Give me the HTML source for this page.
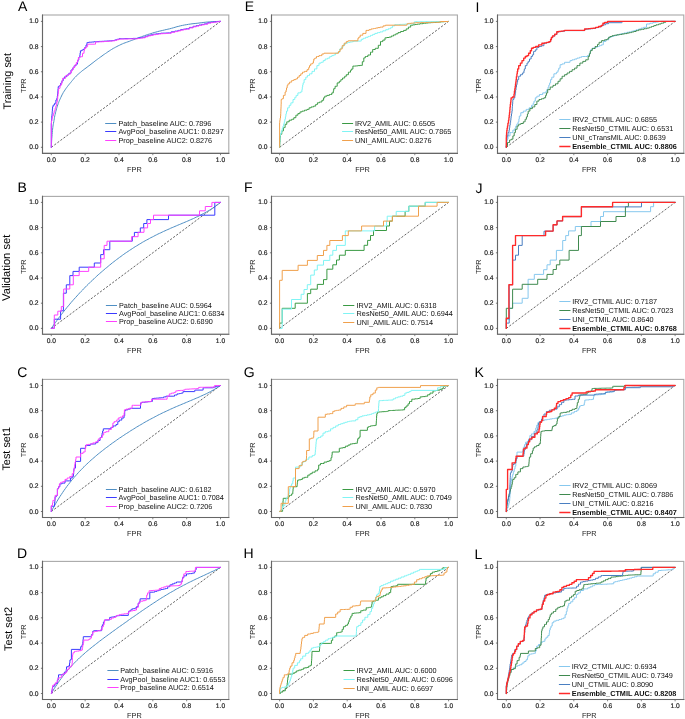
<!DOCTYPE html>
<html><head><meta charset="utf-8"><style>
html,body{margin:0;padding:0;background:#fff;width:685px;height:719px;overflow:hidden}
svg{display:block;will-change:transform}
text{font-family:"Liberation Sans", sans-serif;text-rendering:geometricPrecision}
</style></head><body>
<svg width="685" height="719" viewBox="0 0 685 719" font-family='"Liberation Sans", sans-serif'>
<rect width="685" height="719" fill="#fff"/>
<text x="18.00" y="11.20" font-size="14" fill="#000">A</text>
<text x="17.60" y="192.10" font-size="14" fill="#000">B</text>
<text x="17.20" y="376.60" font-size="14" fill="#000">C</text>
<text x="17.00" y="558.20" font-size="14" fill="#000">D</text>
<text x="244.80" y="11.20" font-size="14" fill="#000">E</text>
<text x="244.10" y="192.10" font-size="14" fill="#000">F</text>
<text x="243.70" y="376.60" font-size="14" fill="#000">G</text>
<text x="243.60" y="558.00" font-size="14" fill="#000">H</text>
<text x="475.50" y="11.60" font-size="14" fill="#000">I</text>
<text x="475.40" y="192.80" font-size="14" fill="#000">J</text>
<text x="474.60" y="376.80" font-size="14" fill="#000">K</text>
<text x="474.60" y="558.60" font-size="14" fill="#000">L</text>
<text transform="translate(10.50,81.30) rotate(-90)" font-size="10.90" fill="#000" text-anchor="middle">Training set</text>
<text transform="translate(9.70,267.80) rotate(-90)" font-size="11.20" fill="#000" text-anchor="middle">Validation set</text>
<text transform="translate(9.60,448.80) rotate(-90)" font-size="10.90" fill="#000" text-anchor="middle">Test set1</text>
<text transform="translate(12.20,628.90) rotate(-90)" font-size="11.00" fill="#000" text-anchor="middle">Test set2</text>
<rect x="42.50" y="15.00" width="186.30" height="138.40" fill="none" stroke="#a8a8a8" stroke-width="1.1"/>
<path d="M42.50,14.45 V153.40 H229.35" fill="none" stroke="#666" stroke-width="1.1"/>
<line x1="40.90" y1="147.30" x2="42.50" y2="147.30" stroke="#555" stroke-width="0.8"/>
<text x="38.60" y="149.30" font-size="6.7" fill="#222" stroke="#222" stroke-width="0.18" text-anchor="end">0.0</text>
<line x1="40.90" y1="122.12" x2="42.50" y2="122.12" stroke="#555" stroke-width="0.8"/>
<text x="38.60" y="124.12" font-size="6.7" fill="#222" stroke="#222" stroke-width="0.18" text-anchor="end">0.2</text>
<line x1="40.90" y1="96.94" x2="42.50" y2="96.94" stroke="#555" stroke-width="0.8"/>
<text x="38.60" y="98.94" font-size="6.7" fill="#222" stroke="#222" stroke-width="0.18" text-anchor="end">0.4</text>
<line x1="40.90" y1="71.76" x2="42.50" y2="71.76" stroke="#555" stroke-width="0.8"/>
<text x="38.60" y="73.76" font-size="6.7" fill="#222" stroke="#222" stroke-width="0.18" text-anchor="end">0.6</text>
<line x1="40.90" y1="46.58" x2="42.50" y2="46.58" stroke="#555" stroke-width="0.8"/>
<text x="38.60" y="48.58" font-size="6.7" fill="#222" stroke="#222" stroke-width="0.18" text-anchor="end">0.8</text>
<line x1="40.90" y1="21.40" x2="42.50" y2="21.40" stroke="#555" stroke-width="0.8"/>
<text x="38.60" y="23.40" font-size="6.7" fill="#222" stroke="#222" stroke-width="0.18" text-anchor="end">1.0</text>
<line x1="51.30" y1="153.40" x2="51.30" y2="155.20" stroke="#666" stroke-width="0.8"/>
<text x="51.30" y="161.80" font-size="6.7" fill="#222" stroke="#222" stroke-width="0.18" text-anchor="middle">0.0</text>
<line x1="85.14" y1="153.40" x2="85.14" y2="155.20" stroke="#666" stroke-width="0.8"/>
<text x="85.14" y="161.80" font-size="6.7" fill="#222" stroke="#222" stroke-width="0.18" text-anchor="middle">0.2</text>
<line x1="118.98" y1="153.40" x2="118.98" y2="155.20" stroke="#666" stroke-width="0.8"/>
<text x="118.98" y="161.80" font-size="6.7" fill="#222" stroke="#222" stroke-width="0.18" text-anchor="middle">0.4</text>
<line x1="152.82" y1="153.40" x2="152.82" y2="155.20" stroke="#666" stroke-width="0.8"/>
<text x="152.82" y="161.80" font-size="6.7" fill="#222" stroke="#222" stroke-width="0.18" text-anchor="middle">0.6</text>
<line x1="186.66" y1="153.40" x2="186.66" y2="155.20" stroke="#666" stroke-width="0.8"/>
<text x="186.66" y="161.80" font-size="6.7" fill="#222" stroke="#222" stroke-width="0.18" text-anchor="middle">0.8</text>
<line x1="220.50" y1="153.40" x2="220.50" y2="155.20" stroke="#666" stroke-width="0.8"/>
<text x="220.50" y="161.80" font-size="6.7" fill="#222" stroke="#222" stroke-width="0.18" text-anchor="middle">1.0</text>
<text x="134.40" y="171.60" font-size="7.3" fill="#222" text-anchor="middle">FPR</text>
<text transform="translate(25.70,85.75) rotate(-90)" font-size="7.3" fill="#222" text-anchor="middle">TPR</text>
<line x1="51.30" y1="147.30" x2="220.50" y2="21.40" stroke="#222" stroke-width="0.7" stroke-dasharray="2.2,1.6"/>
<rect x="271.50" y="15.00" width="185.90" height="138.40" fill="none" stroke="#a8a8a8" stroke-width="1.1"/>
<path d="M271.50,14.45 V153.40 H457.95" fill="none" stroke="#666" stroke-width="1.1"/>
<line x1="269.90" y1="147.30" x2="271.50" y2="147.30" stroke="#555" stroke-width="0.8"/>
<text x="267.60" y="149.30" font-size="6.7" fill="#222" stroke="#222" stroke-width="0.18" text-anchor="end">0.0</text>
<line x1="269.90" y1="122.12" x2="271.50" y2="122.12" stroke="#555" stroke-width="0.8"/>
<text x="267.60" y="124.12" font-size="6.7" fill="#222" stroke="#222" stroke-width="0.18" text-anchor="end">0.2</text>
<line x1="269.90" y1="96.94" x2="271.50" y2="96.94" stroke="#555" stroke-width="0.8"/>
<text x="267.60" y="98.94" font-size="6.7" fill="#222" stroke="#222" stroke-width="0.18" text-anchor="end">0.4</text>
<line x1="269.90" y1="71.76" x2="271.50" y2="71.76" stroke="#555" stroke-width="0.8"/>
<text x="267.60" y="73.76" font-size="6.7" fill="#222" stroke="#222" stroke-width="0.18" text-anchor="end">0.6</text>
<line x1="269.90" y1="46.58" x2="271.50" y2="46.58" stroke="#555" stroke-width="0.8"/>
<text x="267.60" y="48.58" font-size="6.7" fill="#222" stroke="#222" stroke-width="0.18" text-anchor="end">0.8</text>
<line x1="269.90" y1="21.40" x2="271.50" y2="21.40" stroke="#555" stroke-width="0.8"/>
<text x="267.60" y="23.40" font-size="6.7" fill="#222" stroke="#222" stroke-width="0.18" text-anchor="end">1.0</text>
<line x1="279.60" y1="153.40" x2="279.60" y2="155.20" stroke="#666" stroke-width="0.8"/>
<text x="279.60" y="161.80" font-size="6.7" fill="#222" stroke="#222" stroke-width="0.18" text-anchor="middle">0.0</text>
<line x1="313.40" y1="153.40" x2="313.40" y2="155.20" stroke="#666" stroke-width="0.8"/>
<text x="313.40" y="161.80" font-size="6.7" fill="#222" stroke="#222" stroke-width="0.18" text-anchor="middle">0.2</text>
<line x1="347.20" y1="153.40" x2="347.20" y2="155.20" stroke="#666" stroke-width="0.8"/>
<text x="347.20" y="161.80" font-size="6.7" fill="#222" stroke="#222" stroke-width="0.18" text-anchor="middle">0.4</text>
<line x1="381.00" y1="153.40" x2="381.00" y2="155.20" stroke="#666" stroke-width="0.8"/>
<text x="381.00" y="161.80" font-size="6.7" fill="#222" stroke="#222" stroke-width="0.18" text-anchor="middle">0.6</text>
<line x1="414.80" y1="153.40" x2="414.80" y2="155.20" stroke="#666" stroke-width="0.8"/>
<text x="414.80" y="161.80" font-size="6.7" fill="#222" stroke="#222" stroke-width="0.18" text-anchor="middle">0.8</text>
<line x1="448.60" y1="153.40" x2="448.60" y2="155.20" stroke="#666" stroke-width="0.8"/>
<text x="448.60" y="161.80" font-size="6.7" fill="#222" stroke="#222" stroke-width="0.18" text-anchor="middle">1.0</text>
<text x="362.60" y="171.60" font-size="7.3" fill="#222" text-anchor="middle">FPR</text>
<text transform="translate(254.70,85.75) rotate(-90)" font-size="7.3" fill="#222" text-anchor="middle">TPR</text>
<line x1="279.60" y1="147.30" x2="448.60" y2="21.40" stroke="#222" stroke-width="0.7" stroke-dasharray="2.2,1.6"/>
<rect x="497.50" y="15.00" width="186.30" height="138.40" fill="none" stroke="#a8a8a8" stroke-width="1.1"/>
<path d="M497.50,14.45 V153.40 H684.35" fill="none" stroke="#666" stroke-width="1.1"/>
<line x1="495.90" y1="147.30" x2="497.50" y2="147.30" stroke="#555" stroke-width="0.8"/>
<text x="493.60" y="149.30" font-size="6.7" fill="#222" stroke="#222" stroke-width="0.18" text-anchor="end">0.0</text>
<line x1="495.90" y1="122.12" x2="497.50" y2="122.12" stroke="#555" stroke-width="0.8"/>
<text x="493.60" y="124.12" font-size="6.7" fill="#222" stroke="#222" stroke-width="0.18" text-anchor="end">0.2</text>
<line x1="495.90" y1="96.94" x2="497.50" y2="96.94" stroke="#555" stroke-width="0.8"/>
<text x="493.60" y="98.94" font-size="6.7" fill="#222" stroke="#222" stroke-width="0.18" text-anchor="end">0.4</text>
<line x1="495.90" y1="71.76" x2="497.50" y2="71.76" stroke="#555" stroke-width="0.8"/>
<text x="493.60" y="73.76" font-size="6.7" fill="#222" stroke="#222" stroke-width="0.18" text-anchor="end">0.6</text>
<line x1="495.90" y1="46.58" x2="497.50" y2="46.58" stroke="#555" stroke-width="0.8"/>
<text x="493.60" y="48.58" font-size="6.7" fill="#222" stroke="#222" stroke-width="0.18" text-anchor="end">0.8</text>
<line x1="495.90" y1="21.40" x2="497.50" y2="21.40" stroke="#555" stroke-width="0.8"/>
<text x="493.60" y="23.40" font-size="6.7" fill="#222" stroke="#222" stroke-width="0.18" text-anchor="end">1.0</text>
<line x1="506.30" y1="153.40" x2="506.30" y2="155.20" stroke="#666" stroke-width="0.8"/>
<text x="506.30" y="161.80" font-size="6.7" fill="#222" stroke="#222" stroke-width="0.18" text-anchor="middle">0.0</text>
<line x1="540.06" y1="153.40" x2="540.06" y2="155.20" stroke="#666" stroke-width="0.8"/>
<text x="540.06" y="161.80" font-size="6.7" fill="#222" stroke="#222" stroke-width="0.18" text-anchor="middle">0.2</text>
<line x1="573.82" y1="153.40" x2="573.82" y2="155.20" stroke="#666" stroke-width="0.8"/>
<text x="573.82" y="161.80" font-size="6.7" fill="#222" stroke="#222" stroke-width="0.18" text-anchor="middle">0.4</text>
<line x1="607.58" y1="153.40" x2="607.58" y2="155.20" stroke="#666" stroke-width="0.8"/>
<text x="607.58" y="161.80" font-size="6.7" fill="#222" stroke="#222" stroke-width="0.18" text-anchor="middle">0.6</text>
<line x1="641.34" y1="153.40" x2="641.34" y2="155.20" stroke="#666" stroke-width="0.8"/>
<text x="641.34" y="161.80" font-size="6.7" fill="#222" stroke="#222" stroke-width="0.18" text-anchor="middle">0.8</text>
<line x1="675.10" y1="153.40" x2="675.10" y2="155.20" stroke="#666" stroke-width="0.8"/>
<text x="675.10" y="161.80" font-size="6.7" fill="#222" stroke="#222" stroke-width="0.18" text-anchor="middle">1.0</text>
<text x="589.20" y="171.60" font-size="7.3" fill="#222" text-anchor="middle">FPR</text>
<text transform="translate(480.70,85.75) rotate(-90)" font-size="7.3" fill="#222" text-anchor="middle">TPR</text>
<line x1="506.30" y1="147.30" x2="675.10" y2="21.40" stroke="#222" stroke-width="0.7" stroke-dasharray="2.2,1.6"/>
<rect x="42.50" y="196.40" width="186.30" height="137.90" fill="none" stroke="#a8a8a8" stroke-width="1.1"/>
<path d="M42.50,195.85 V334.30 H229.35" fill="none" stroke="#666" stroke-width="1.1"/>
<line x1="40.90" y1="328.40" x2="42.50" y2="328.40" stroke="#555" stroke-width="0.8"/>
<text x="38.60" y="330.40" font-size="6.7" fill="#222" stroke="#222" stroke-width="0.18" text-anchor="end">0.0</text>
<line x1="40.90" y1="303.20" x2="42.50" y2="303.20" stroke="#555" stroke-width="0.8"/>
<text x="38.60" y="305.20" font-size="6.7" fill="#222" stroke="#222" stroke-width="0.18" text-anchor="end">0.2</text>
<line x1="40.90" y1="278.00" x2="42.50" y2="278.00" stroke="#555" stroke-width="0.8"/>
<text x="38.60" y="280.00" font-size="6.7" fill="#222" stroke="#222" stroke-width="0.18" text-anchor="end">0.4</text>
<line x1="40.90" y1="252.80" x2="42.50" y2="252.80" stroke="#555" stroke-width="0.8"/>
<text x="38.60" y="254.80" font-size="6.7" fill="#222" stroke="#222" stroke-width="0.18" text-anchor="end">0.6</text>
<line x1="40.90" y1="227.60" x2="42.50" y2="227.60" stroke="#555" stroke-width="0.8"/>
<text x="38.60" y="229.60" font-size="6.7" fill="#222" stroke="#222" stroke-width="0.18" text-anchor="end">0.8</text>
<line x1="40.90" y1="202.40" x2="42.50" y2="202.40" stroke="#555" stroke-width="0.8"/>
<text x="38.60" y="204.40" font-size="6.7" fill="#222" stroke="#222" stroke-width="0.18" text-anchor="end">1.0</text>
<line x1="51.30" y1="334.30" x2="51.30" y2="336.10" stroke="#666" stroke-width="0.8"/>
<text x="51.30" y="342.70" font-size="6.7" fill="#222" stroke="#222" stroke-width="0.18" text-anchor="middle">0.0</text>
<line x1="85.14" y1="334.30" x2="85.14" y2="336.10" stroke="#666" stroke-width="0.8"/>
<text x="85.14" y="342.70" font-size="6.7" fill="#222" stroke="#222" stroke-width="0.18" text-anchor="middle">0.2</text>
<line x1="118.98" y1="334.30" x2="118.98" y2="336.10" stroke="#666" stroke-width="0.8"/>
<text x="118.98" y="342.70" font-size="6.7" fill="#222" stroke="#222" stroke-width="0.18" text-anchor="middle">0.4</text>
<line x1="152.82" y1="334.30" x2="152.82" y2="336.10" stroke="#666" stroke-width="0.8"/>
<text x="152.82" y="342.70" font-size="6.7" fill="#222" stroke="#222" stroke-width="0.18" text-anchor="middle">0.6</text>
<line x1="186.66" y1="334.30" x2="186.66" y2="336.10" stroke="#666" stroke-width="0.8"/>
<text x="186.66" y="342.70" font-size="6.7" fill="#222" stroke="#222" stroke-width="0.18" text-anchor="middle">0.8</text>
<line x1="220.50" y1="334.30" x2="220.50" y2="336.10" stroke="#666" stroke-width="0.8"/>
<text x="220.50" y="342.70" font-size="6.7" fill="#222" stroke="#222" stroke-width="0.18" text-anchor="middle">1.0</text>
<text x="134.40" y="352.50" font-size="7.3" fill="#222" text-anchor="middle">FPR</text>
<text transform="translate(25.70,266.80) rotate(-90)" font-size="7.3" fill="#222" text-anchor="middle">TPR</text>
<line x1="51.30" y1="328.40" x2="220.50" y2="202.40" stroke="#222" stroke-width="0.7" stroke-dasharray="2.2,1.6"/>
<rect x="271.50" y="196.40" width="185.90" height="137.90" fill="none" stroke="#a8a8a8" stroke-width="1.1"/>
<path d="M271.50,195.85 V334.30 H457.95" fill="none" stroke="#666" stroke-width="1.1"/>
<line x1="269.90" y1="328.40" x2="271.50" y2="328.40" stroke="#555" stroke-width="0.8"/>
<text x="267.60" y="330.40" font-size="6.7" fill="#222" stroke="#222" stroke-width="0.18" text-anchor="end">0.0</text>
<line x1="269.90" y1="303.20" x2="271.50" y2="303.20" stroke="#555" stroke-width="0.8"/>
<text x="267.60" y="305.20" font-size="6.7" fill="#222" stroke="#222" stroke-width="0.18" text-anchor="end">0.2</text>
<line x1="269.90" y1="278.00" x2="271.50" y2="278.00" stroke="#555" stroke-width="0.8"/>
<text x="267.60" y="280.00" font-size="6.7" fill="#222" stroke="#222" stroke-width="0.18" text-anchor="end">0.4</text>
<line x1="269.90" y1="252.80" x2="271.50" y2="252.80" stroke="#555" stroke-width="0.8"/>
<text x="267.60" y="254.80" font-size="6.7" fill="#222" stroke="#222" stroke-width="0.18" text-anchor="end">0.6</text>
<line x1="269.90" y1="227.60" x2="271.50" y2="227.60" stroke="#555" stroke-width="0.8"/>
<text x="267.60" y="229.60" font-size="6.7" fill="#222" stroke="#222" stroke-width="0.18" text-anchor="end">0.8</text>
<line x1="269.90" y1="202.40" x2="271.50" y2="202.40" stroke="#555" stroke-width="0.8"/>
<text x="267.60" y="204.40" font-size="6.7" fill="#222" stroke="#222" stroke-width="0.18" text-anchor="end">1.0</text>
<line x1="279.60" y1="334.30" x2="279.60" y2="336.10" stroke="#666" stroke-width="0.8"/>
<text x="279.60" y="342.70" font-size="6.7" fill="#222" stroke="#222" stroke-width="0.18" text-anchor="middle">0.0</text>
<line x1="313.40" y1="334.30" x2="313.40" y2="336.10" stroke="#666" stroke-width="0.8"/>
<text x="313.40" y="342.70" font-size="6.7" fill="#222" stroke="#222" stroke-width="0.18" text-anchor="middle">0.2</text>
<line x1="347.20" y1="334.30" x2="347.20" y2="336.10" stroke="#666" stroke-width="0.8"/>
<text x="347.20" y="342.70" font-size="6.7" fill="#222" stroke="#222" stroke-width="0.18" text-anchor="middle">0.4</text>
<line x1="381.00" y1="334.30" x2="381.00" y2="336.10" stroke="#666" stroke-width="0.8"/>
<text x="381.00" y="342.70" font-size="6.7" fill="#222" stroke="#222" stroke-width="0.18" text-anchor="middle">0.6</text>
<line x1="414.80" y1="334.30" x2="414.80" y2="336.10" stroke="#666" stroke-width="0.8"/>
<text x="414.80" y="342.70" font-size="6.7" fill="#222" stroke="#222" stroke-width="0.18" text-anchor="middle">0.8</text>
<line x1="448.60" y1="334.30" x2="448.60" y2="336.10" stroke="#666" stroke-width="0.8"/>
<text x="448.60" y="342.70" font-size="6.7" fill="#222" stroke="#222" stroke-width="0.18" text-anchor="middle">1.0</text>
<text x="362.60" y="352.50" font-size="7.3" fill="#222" text-anchor="middle">FPR</text>
<text transform="translate(254.70,266.80) rotate(-90)" font-size="7.3" fill="#222" text-anchor="middle">TPR</text>
<line x1="279.60" y1="328.40" x2="448.60" y2="202.40" stroke="#222" stroke-width="0.7" stroke-dasharray="2.2,1.6"/>
<rect x="497.50" y="196.40" width="186.30" height="137.90" fill="none" stroke="#a8a8a8" stroke-width="1.1"/>
<path d="M497.50,195.85 V334.30 H684.35" fill="none" stroke="#666" stroke-width="1.1"/>
<line x1="495.90" y1="328.40" x2="497.50" y2="328.40" stroke="#555" stroke-width="0.8"/>
<text x="493.60" y="330.40" font-size="6.7" fill="#222" stroke="#222" stroke-width="0.18" text-anchor="end">0.0</text>
<line x1="495.90" y1="303.20" x2="497.50" y2="303.20" stroke="#555" stroke-width="0.8"/>
<text x="493.60" y="305.20" font-size="6.7" fill="#222" stroke="#222" stroke-width="0.18" text-anchor="end">0.2</text>
<line x1="495.90" y1="278.00" x2="497.50" y2="278.00" stroke="#555" stroke-width="0.8"/>
<text x="493.60" y="280.00" font-size="6.7" fill="#222" stroke="#222" stroke-width="0.18" text-anchor="end">0.4</text>
<line x1="495.90" y1="252.80" x2="497.50" y2="252.80" stroke="#555" stroke-width="0.8"/>
<text x="493.60" y="254.80" font-size="6.7" fill="#222" stroke="#222" stroke-width="0.18" text-anchor="end">0.6</text>
<line x1="495.90" y1="227.60" x2="497.50" y2="227.60" stroke="#555" stroke-width="0.8"/>
<text x="493.60" y="229.60" font-size="6.7" fill="#222" stroke="#222" stroke-width="0.18" text-anchor="end">0.8</text>
<line x1="495.90" y1="202.40" x2="497.50" y2="202.40" stroke="#555" stroke-width="0.8"/>
<text x="493.60" y="204.40" font-size="6.7" fill="#222" stroke="#222" stroke-width="0.18" text-anchor="end">1.0</text>
<line x1="506.30" y1="334.30" x2="506.30" y2="336.10" stroke="#666" stroke-width="0.8"/>
<text x="506.30" y="342.70" font-size="6.7" fill="#222" stroke="#222" stroke-width="0.18" text-anchor="middle">0.0</text>
<line x1="540.06" y1="334.30" x2="540.06" y2="336.10" stroke="#666" stroke-width="0.8"/>
<text x="540.06" y="342.70" font-size="6.7" fill="#222" stroke="#222" stroke-width="0.18" text-anchor="middle">0.2</text>
<line x1="573.82" y1="334.30" x2="573.82" y2="336.10" stroke="#666" stroke-width="0.8"/>
<text x="573.82" y="342.70" font-size="6.7" fill="#222" stroke="#222" stroke-width="0.18" text-anchor="middle">0.4</text>
<line x1="607.58" y1="334.30" x2="607.58" y2="336.10" stroke="#666" stroke-width="0.8"/>
<text x="607.58" y="342.70" font-size="6.7" fill="#222" stroke="#222" stroke-width="0.18" text-anchor="middle">0.6</text>
<line x1="641.34" y1="334.30" x2="641.34" y2="336.10" stroke="#666" stroke-width="0.8"/>
<text x="641.34" y="342.70" font-size="6.7" fill="#222" stroke="#222" stroke-width="0.18" text-anchor="middle">0.8</text>
<line x1="675.10" y1="334.30" x2="675.10" y2="336.10" stroke="#666" stroke-width="0.8"/>
<text x="675.10" y="342.70" font-size="6.7" fill="#222" stroke="#222" stroke-width="0.18" text-anchor="middle">1.0</text>
<text x="589.20" y="352.50" font-size="7.3" fill="#222" text-anchor="middle">FPR</text>
<text transform="translate(480.70,266.80) rotate(-90)" font-size="7.3" fill="#222" text-anchor="middle">TPR</text>
<line x1="506.30" y1="328.40" x2="675.10" y2="202.40" stroke="#222" stroke-width="0.7" stroke-dasharray="2.2,1.6"/>
<rect x="42.50" y="379.40" width="186.30" height="138.10" fill="none" stroke="#a8a8a8" stroke-width="1.1"/>
<path d="M42.50,378.85 V517.50 H229.35" fill="none" stroke="#666" stroke-width="1.1"/>
<line x1="40.90" y1="511.50" x2="42.50" y2="511.50" stroke="#555" stroke-width="0.8"/>
<text x="38.60" y="513.50" font-size="6.7" fill="#222" stroke="#222" stroke-width="0.18" text-anchor="end">0.0</text>
<line x1="40.90" y1="486.30" x2="42.50" y2="486.30" stroke="#555" stroke-width="0.8"/>
<text x="38.60" y="488.30" font-size="6.7" fill="#222" stroke="#222" stroke-width="0.18" text-anchor="end">0.2</text>
<line x1="40.90" y1="461.10" x2="42.50" y2="461.10" stroke="#555" stroke-width="0.8"/>
<text x="38.60" y="463.10" font-size="6.7" fill="#222" stroke="#222" stroke-width="0.18" text-anchor="end">0.4</text>
<line x1="40.90" y1="435.90" x2="42.50" y2="435.90" stroke="#555" stroke-width="0.8"/>
<text x="38.60" y="437.90" font-size="6.7" fill="#222" stroke="#222" stroke-width="0.18" text-anchor="end">0.6</text>
<line x1="40.90" y1="410.70" x2="42.50" y2="410.70" stroke="#555" stroke-width="0.8"/>
<text x="38.60" y="412.70" font-size="6.7" fill="#222" stroke="#222" stroke-width="0.18" text-anchor="end">0.8</text>
<line x1="40.90" y1="385.50" x2="42.50" y2="385.50" stroke="#555" stroke-width="0.8"/>
<text x="38.60" y="387.50" font-size="6.7" fill="#222" stroke="#222" stroke-width="0.18" text-anchor="end">1.0</text>
<line x1="51.30" y1="517.50" x2="51.30" y2="519.30" stroke="#666" stroke-width="0.8"/>
<text x="51.30" y="525.90" font-size="6.7" fill="#222" stroke="#222" stroke-width="0.18" text-anchor="middle">0.0</text>
<line x1="85.14" y1="517.50" x2="85.14" y2="519.30" stroke="#666" stroke-width="0.8"/>
<text x="85.14" y="525.90" font-size="6.7" fill="#222" stroke="#222" stroke-width="0.18" text-anchor="middle">0.2</text>
<line x1="118.98" y1="517.50" x2="118.98" y2="519.30" stroke="#666" stroke-width="0.8"/>
<text x="118.98" y="525.90" font-size="6.7" fill="#222" stroke="#222" stroke-width="0.18" text-anchor="middle">0.4</text>
<line x1="152.82" y1="517.50" x2="152.82" y2="519.30" stroke="#666" stroke-width="0.8"/>
<text x="152.82" y="525.90" font-size="6.7" fill="#222" stroke="#222" stroke-width="0.18" text-anchor="middle">0.6</text>
<line x1="186.66" y1="517.50" x2="186.66" y2="519.30" stroke="#666" stroke-width="0.8"/>
<text x="186.66" y="525.90" font-size="6.7" fill="#222" stroke="#222" stroke-width="0.18" text-anchor="middle">0.8</text>
<line x1="220.50" y1="517.50" x2="220.50" y2="519.30" stroke="#666" stroke-width="0.8"/>
<text x="220.50" y="525.90" font-size="6.7" fill="#222" stroke="#222" stroke-width="0.18" text-anchor="middle">1.0</text>
<text x="134.40" y="535.70" font-size="7.3" fill="#222" text-anchor="middle">FPR</text>
<text transform="translate(25.70,449.90) rotate(-90)" font-size="7.3" fill="#222" text-anchor="middle">TPR</text>
<line x1="51.30" y1="511.50" x2="220.50" y2="385.50" stroke="#222" stroke-width="0.7" stroke-dasharray="2.2,1.6"/>
<rect x="271.50" y="379.40" width="185.90" height="138.10" fill="none" stroke="#a8a8a8" stroke-width="1.1"/>
<path d="M271.50,378.85 V517.50 H457.95" fill="none" stroke="#666" stroke-width="1.1"/>
<line x1="269.90" y1="511.50" x2="271.50" y2="511.50" stroke="#555" stroke-width="0.8"/>
<text x="267.60" y="513.50" font-size="6.7" fill="#222" stroke="#222" stroke-width="0.18" text-anchor="end">0.0</text>
<line x1="269.90" y1="486.30" x2="271.50" y2="486.30" stroke="#555" stroke-width="0.8"/>
<text x="267.60" y="488.30" font-size="6.7" fill="#222" stroke="#222" stroke-width="0.18" text-anchor="end">0.2</text>
<line x1="269.90" y1="461.10" x2="271.50" y2="461.10" stroke="#555" stroke-width="0.8"/>
<text x="267.60" y="463.10" font-size="6.7" fill="#222" stroke="#222" stroke-width="0.18" text-anchor="end">0.4</text>
<line x1="269.90" y1="435.90" x2="271.50" y2="435.90" stroke="#555" stroke-width="0.8"/>
<text x="267.60" y="437.90" font-size="6.7" fill="#222" stroke="#222" stroke-width="0.18" text-anchor="end">0.6</text>
<line x1="269.90" y1="410.70" x2="271.50" y2="410.70" stroke="#555" stroke-width="0.8"/>
<text x="267.60" y="412.70" font-size="6.7" fill="#222" stroke="#222" stroke-width="0.18" text-anchor="end">0.8</text>
<line x1="269.90" y1="385.50" x2="271.50" y2="385.50" stroke="#555" stroke-width="0.8"/>
<text x="267.60" y="387.50" font-size="6.7" fill="#222" stroke="#222" stroke-width="0.18" text-anchor="end">1.0</text>
<line x1="279.60" y1="517.50" x2="279.60" y2="519.30" stroke="#666" stroke-width="0.8"/>
<text x="279.60" y="525.90" font-size="6.7" fill="#222" stroke="#222" stroke-width="0.18" text-anchor="middle">0.0</text>
<line x1="313.40" y1="517.50" x2="313.40" y2="519.30" stroke="#666" stroke-width="0.8"/>
<text x="313.40" y="525.90" font-size="6.7" fill="#222" stroke="#222" stroke-width="0.18" text-anchor="middle">0.2</text>
<line x1="347.20" y1="517.50" x2="347.20" y2="519.30" stroke="#666" stroke-width="0.8"/>
<text x="347.20" y="525.90" font-size="6.7" fill="#222" stroke="#222" stroke-width="0.18" text-anchor="middle">0.4</text>
<line x1="381.00" y1="517.50" x2="381.00" y2="519.30" stroke="#666" stroke-width="0.8"/>
<text x="381.00" y="525.90" font-size="6.7" fill="#222" stroke="#222" stroke-width="0.18" text-anchor="middle">0.6</text>
<line x1="414.80" y1="517.50" x2="414.80" y2="519.30" stroke="#666" stroke-width="0.8"/>
<text x="414.80" y="525.90" font-size="6.7" fill="#222" stroke="#222" stroke-width="0.18" text-anchor="middle">0.8</text>
<line x1="448.60" y1="517.50" x2="448.60" y2="519.30" stroke="#666" stroke-width="0.8"/>
<text x="448.60" y="525.90" font-size="6.7" fill="#222" stroke="#222" stroke-width="0.18" text-anchor="middle">1.0</text>
<text x="362.60" y="535.70" font-size="7.3" fill="#222" text-anchor="middle">FPR</text>
<text transform="translate(254.70,449.90) rotate(-90)" font-size="7.3" fill="#222" text-anchor="middle">TPR</text>
<line x1="279.60" y1="511.50" x2="448.60" y2="385.50" stroke="#222" stroke-width="0.7" stroke-dasharray="2.2,1.6"/>
<rect x="497.50" y="379.40" width="186.30" height="138.10" fill="none" stroke="#a8a8a8" stroke-width="1.1"/>
<path d="M497.50,378.85 V517.50 H684.35" fill="none" stroke="#666" stroke-width="1.1"/>
<line x1="495.90" y1="511.50" x2="497.50" y2="511.50" stroke="#555" stroke-width="0.8"/>
<text x="493.60" y="513.50" font-size="6.7" fill="#222" stroke="#222" stroke-width="0.18" text-anchor="end">0.0</text>
<line x1="495.90" y1="486.30" x2="497.50" y2="486.30" stroke="#555" stroke-width="0.8"/>
<text x="493.60" y="488.30" font-size="6.7" fill="#222" stroke="#222" stroke-width="0.18" text-anchor="end">0.2</text>
<line x1="495.90" y1="461.10" x2="497.50" y2="461.10" stroke="#555" stroke-width="0.8"/>
<text x="493.60" y="463.10" font-size="6.7" fill="#222" stroke="#222" stroke-width="0.18" text-anchor="end">0.4</text>
<line x1="495.90" y1="435.90" x2="497.50" y2="435.90" stroke="#555" stroke-width="0.8"/>
<text x="493.60" y="437.90" font-size="6.7" fill="#222" stroke="#222" stroke-width="0.18" text-anchor="end">0.6</text>
<line x1="495.90" y1="410.70" x2="497.50" y2="410.70" stroke="#555" stroke-width="0.8"/>
<text x="493.60" y="412.70" font-size="6.7" fill="#222" stroke="#222" stroke-width="0.18" text-anchor="end">0.8</text>
<line x1="495.90" y1="385.50" x2="497.50" y2="385.50" stroke="#555" stroke-width="0.8"/>
<text x="493.60" y="387.50" font-size="6.7" fill="#222" stroke="#222" stroke-width="0.18" text-anchor="end">1.0</text>
<line x1="506.30" y1="517.50" x2="506.30" y2="519.30" stroke="#666" stroke-width="0.8"/>
<text x="506.30" y="525.90" font-size="6.7" fill="#222" stroke="#222" stroke-width="0.18" text-anchor="middle">0.0</text>
<line x1="540.06" y1="517.50" x2="540.06" y2="519.30" stroke="#666" stroke-width="0.8"/>
<text x="540.06" y="525.90" font-size="6.7" fill="#222" stroke="#222" stroke-width="0.18" text-anchor="middle">0.2</text>
<line x1="573.82" y1="517.50" x2="573.82" y2="519.30" stroke="#666" stroke-width="0.8"/>
<text x="573.82" y="525.90" font-size="6.7" fill="#222" stroke="#222" stroke-width="0.18" text-anchor="middle">0.4</text>
<line x1="607.58" y1="517.50" x2="607.58" y2="519.30" stroke="#666" stroke-width="0.8"/>
<text x="607.58" y="525.90" font-size="6.7" fill="#222" stroke="#222" stroke-width="0.18" text-anchor="middle">0.6</text>
<line x1="641.34" y1="517.50" x2="641.34" y2="519.30" stroke="#666" stroke-width="0.8"/>
<text x="641.34" y="525.90" font-size="6.7" fill="#222" stroke="#222" stroke-width="0.18" text-anchor="middle">0.8</text>
<line x1="675.10" y1="517.50" x2="675.10" y2="519.30" stroke="#666" stroke-width="0.8"/>
<text x="675.10" y="525.90" font-size="6.7" fill="#222" stroke="#222" stroke-width="0.18" text-anchor="middle">1.0</text>
<text x="589.20" y="535.70" font-size="7.3" fill="#222" text-anchor="middle">FPR</text>
<text transform="translate(480.70,449.90) rotate(-90)" font-size="7.3" fill="#222" text-anchor="middle">TPR</text>
<line x1="506.30" y1="511.50" x2="675.10" y2="385.50" stroke="#222" stroke-width="0.7" stroke-dasharray="2.2,1.6"/>
<rect x="42.50" y="561.40" width="186.30" height="138.10" fill="none" stroke="#a8a8a8" stroke-width="1.1"/>
<path d="M42.50,560.85 V699.50 H229.35" fill="none" stroke="#666" stroke-width="1.1"/>
<line x1="40.90" y1="693.50" x2="42.50" y2="693.50" stroke="#555" stroke-width="0.8"/>
<text x="38.60" y="695.50" font-size="6.7" fill="#222" stroke="#222" stroke-width="0.18" text-anchor="end">0.0</text>
<line x1="40.90" y1="668.28" x2="42.50" y2="668.28" stroke="#555" stroke-width="0.8"/>
<text x="38.60" y="670.28" font-size="6.7" fill="#222" stroke="#222" stroke-width="0.18" text-anchor="end">0.2</text>
<line x1="40.90" y1="643.06" x2="42.50" y2="643.06" stroke="#555" stroke-width="0.8"/>
<text x="38.60" y="645.06" font-size="6.7" fill="#222" stroke="#222" stroke-width="0.18" text-anchor="end">0.4</text>
<line x1="40.90" y1="617.84" x2="42.50" y2="617.84" stroke="#555" stroke-width="0.8"/>
<text x="38.60" y="619.84" font-size="6.7" fill="#222" stroke="#222" stroke-width="0.18" text-anchor="end">0.6</text>
<line x1="40.90" y1="592.62" x2="42.50" y2="592.62" stroke="#555" stroke-width="0.8"/>
<text x="38.60" y="594.62" font-size="6.7" fill="#222" stroke="#222" stroke-width="0.18" text-anchor="end">0.8</text>
<line x1="40.90" y1="567.40" x2="42.50" y2="567.40" stroke="#555" stroke-width="0.8"/>
<text x="38.60" y="569.40" font-size="6.7" fill="#222" stroke="#222" stroke-width="0.18" text-anchor="end">1.0</text>
<line x1="51.30" y1="699.50" x2="51.30" y2="701.30" stroke="#666" stroke-width="0.8"/>
<text x="51.30" y="707.90" font-size="6.7" fill="#222" stroke="#222" stroke-width="0.18" text-anchor="middle">0.0</text>
<line x1="85.14" y1="699.50" x2="85.14" y2="701.30" stroke="#666" stroke-width="0.8"/>
<text x="85.14" y="707.90" font-size="6.7" fill="#222" stroke="#222" stroke-width="0.18" text-anchor="middle">0.2</text>
<line x1="118.98" y1="699.50" x2="118.98" y2="701.30" stroke="#666" stroke-width="0.8"/>
<text x="118.98" y="707.90" font-size="6.7" fill="#222" stroke="#222" stroke-width="0.18" text-anchor="middle">0.4</text>
<line x1="152.82" y1="699.50" x2="152.82" y2="701.30" stroke="#666" stroke-width="0.8"/>
<text x="152.82" y="707.90" font-size="6.7" fill="#222" stroke="#222" stroke-width="0.18" text-anchor="middle">0.6</text>
<line x1="186.66" y1="699.50" x2="186.66" y2="701.30" stroke="#666" stroke-width="0.8"/>
<text x="186.66" y="707.90" font-size="6.7" fill="#222" stroke="#222" stroke-width="0.18" text-anchor="middle">0.8</text>
<line x1="220.50" y1="699.50" x2="220.50" y2="701.30" stroke="#666" stroke-width="0.8"/>
<text x="220.50" y="707.90" font-size="6.7" fill="#222" stroke="#222" stroke-width="0.18" text-anchor="middle">1.0</text>
<text x="134.40" y="717.70" font-size="7.3" fill="#222" text-anchor="middle">FPR</text>
<text transform="translate(25.70,631.85) rotate(-90)" font-size="7.3" fill="#222" text-anchor="middle">TPR</text>
<line x1="51.30" y1="693.50" x2="220.50" y2="567.40" stroke="#222" stroke-width="0.7" stroke-dasharray="2.2,1.6"/>
<rect x="271.50" y="561.40" width="185.90" height="138.10" fill="none" stroke="#a8a8a8" stroke-width="1.1"/>
<path d="M271.50,560.85 V699.50 H457.95" fill="none" stroke="#666" stroke-width="1.1"/>
<line x1="269.90" y1="693.50" x2="271.50" y2="693.50" stroke="#555" stroke-width="0.8"/>
<text x="267.60" y="695.50" font-size="6.7" fill="#222" stroke="#222" stroke-width="0.18" text-anchor="end">0.0</text>
<line x1="269.90" y1="668.28" x2="271.50" y2="668.28" stroke="#555" stroke-width="0.8"/>
<text x="267.60" y="670.28" font-size="6.7" fill="#222" stroke="#222" stroke-width="0.18" text-anchor="end">0.2</text>
<line x1="269.90" y1="643.06" x2="271.50" y2="643.06" stroke="#555" stroke-width="0.8"/>
<text x="267.60" y="645.06" font-size="6.7" fill="#222" stroke="#222" stroke-width="0.18" text-anchor="end">0.4</text>
<line x1="269.90" y1="617.84" x2="271.50" y2="617.84" stroke="#555" stroke-width="0.8"/>
<text x="267.60" y="619.84" font-size="6.7" fill="#222" stroke="#222" stroke-width="0.18" text-anchor="end">0.6</text>
<line x1="269.90" y1="592.62" x2="271.50" y2="592.62" stroke="#555" stroke-width="0.8"/>
<text x="267.60" y="594.62" font-size="6.7" fill="#222" stroke="#222" stroke-width="0.18" text-anchor="end">0.8</text>
<line x1="269.90" y1="567.40" x2="271.50" y2="567.40" stroke="#555" stroke-width="0.8"/>
<text x="267.60" y="569.40" font-size="6.7" fill="#222" stroke="#222" stroke-width="0.18" text-anchor="end">1.0</text>
<line x1="279.60" y1="699.50" x2="279.60" y2="701.30" stroke="#666" stroke-width="0.8"/>
<text x="279.60" y="707.90" font-size="6.7" fill="#222" stroke="#222" stroke-width="0.18" text-anchor="middle">0.0</text>
<line x1="313.40" y1="699.50" x2="313.40" y2="701.30" stroke="#666" stroke-width="0.8"/>
<text x="313.40" y="707.90" font-size="6.7" fill="#222" stroke="#222" stroke-width="0.18" text-anchor="middle">0.2</text>
<line x1="347.20" y1="699.50" x2="347.20" y2="701.30" stroke="#666" stroke-width="0.8"/>
<text x="347.20" y="707.90" font-size="6.7" fill="#222" stroke="#222" stroke-width="0.18" text-anchor="middle">0.4</text>
<line x1="381.00" y1="699.50" x2="381.00" y2="701.30" stroke="#666" stroke-width="0.8"/>
<text x="381.00" y="707.90" font-size="6.7" fill="#222" stroke="#222" stroke-width="0.18" text-anchor="middle">0.6</text>
<line x1="414.80" y1="699.50" x2="414.80" y2="701.30" stroke="#666" stroke-width="0.8"/>
<text x="414.80" y="707.90" font-size="6.7" fill="#222" stroke="#222" stroke-width="0.18" text-anchor="middle">0.8</text>
<line x1="448.60" y1="699.50" x2="448.60" y2="701.30" stroke="#666" stroke-width="0.8"/>
<text x="448.60" y="707.90" font-size="6.7" fill="#222" stroke="#222" stroke-width="0.18" text-anchor="middle">1.0</text>
<text x="362.60" y="717.70" font-size="7.3" fill="#222" text-anchor="middle">FPR</text>
<text transform="translate(254.70,631.85) rotate(-90)" font-size="7.3" fill="#222" text-anchor="middle">TPR</text>
<line x1="279.60" y1="693.50" x2="448.60" y2="567.40" stroke="#222" stroke-width="0.7" stroke-dasharray="2.2,1.6"/>
<rect x="497.50" y="561.40" width="186.30" height="138.10" fill="none" stroke="#a8a8a8" stroke-width="1.1"/>
<path d="M497.50,560.85 V699.50 H684.35" fill="none" stroke="#666" stroke-width="1.1"/>
<line x1="495.90" y1="693.50" x2="497.50" y2="693.50" stroke="#555" stroke-width="0.8"/>
<text x="493.60" y="695.50" font-size="6.7" fill="#222" stroke="#222" stroke-width="0.18" text-anchor="end">0.0</text>
<line x1="495.90" y1="668.28" x2="497.50" y2="668.28" stroke="#555" stroke-width="0.8"/>
<text x="493.60" y="670.28" font-size="6.7" fill="#222" stroke="#222" stroke-width="0.18" text-anchor="end">0.2</text>
<line x1="495.90" y1="643.06" x2="497.50" y2="643.06" stroke="#555" stroke-width="0.8"/>
<text x="493.60" y="645.06" font-size="6.7" fill="#222" stroke="#222" stroke-width="0.18" text-anchor="end">0.4</text>
<line x1="495.90" y1="617.84" x2="497.50" y2="617.84" stroke="#555" stroke-width="0.8"/>
<text x="493.60" y="619.84" font-size="6.7" fill="#222" stroke="#222" stroke-width="0.18" text-anchor="end">0.6</text>
<line x1="495.90" y1="592.62" x2="497.50" y2="592.62" stroke="#555" stroke-width="0.8"/>
<text x="493.60" y="594.62" font-size="6.7" fill="#222" stroke="#222" stroke-width="0.18" text-anchor="end">0.8</text>
<line x1="495.90" y1="567.40" x2="497.50" y2="567.40" stroke="#555" stroke-width="0.8"/>
<text x="493.60" y="569.40" font-size="6.7" fill="#222" stroke="#222" stroke-width="0.18" text-anchor="end">1.0</text>
<line x1="506.30" y1="699.50" x2="506.30" y2="701.30" stroke="#666" stroke-width="0.8"/>
<text x="506.30" y="707.90" font-size="6.7" fill="#222" stroke="#222" stroke-width="0.18" text-anchor="middle">0.0</text>
<line x1="540.06" y1="699.50" x2="540.06" y2="701.30" stroke="#666" stroke-width="0.8"/>
<text x="540.06" y="707.90" font-size="6.7" fill="#222" stroke="#222" stroke-width="0.18" text-anchor="middle">0.2</text>
<line x1="573.82" y1="699.50" x2="573.82" y2="701.30" stroke="#666" stroke-width="0.8"/>
<text x="573.82" y="707.90" font-size="6.7" fill="#222" stroke="#222" stroke-width="0.18" text-anchor="middle">0.4</text>
<line x1="607.58" y1="699.50" x2="607.58" y2="701.30" stroke="#666" stroke-width="0.8"/>
<text x="607.58" y="707.90" font-size="6.7" fill="#222" stroke="#222" stroke-width="0.18" text-anchor="middle">0.6</text>
<line x1="641.34" y1="699.50" x2="641.34" y2="701.30" stroke="#666" stroke-width="0.8"/>
<text x="641.34" y="707.90" font-size="6.7" fill="#222" stroke="#222" stroke-width="0.18" text-anchor="middle">0.8</text>
<line x1="675.10" y1="699.50" x2="675.10" y2="701.30" stroke="#666" stroke-width="0.8"/>
<text x="675.10" y="707.90" font-size="6.7" fill="#222" stroke="#222" stroke-width="0.18" text-anchor="middle">1.0</text>
<text x="589.20" y="717.70" font-size="7.3" fill="#222" text-anchor="middle">FPR</text>
<text transform="translate(480.70,631.85) rotate(-90)" font-size="7.3" fill="#222" text-anchor="middle">TPR</text>
<line x1="506.30" y1="693.50" x2="675.10" y2="567.40" stroke="#222" stroke-width="0.7" stroke-dasharray="2.2,1.6"/>
<polyline points="51.3,147.3 51.3,147.2 51.3,146.8 51.4,146.2 51.4,145.4 51.5,144.3 51.5,143.1 51.6,141.6 51.7,140.0 51.8,138.2 52.0,136.3 52.1,134.4 52.3,132.5 52.4,130.7 52.5,130.1 52.6,129.1 52.8,127.6 53.0,126.1 53.2,124.8 53.5,123.4 53.7,122.0 53.8,121.7 54.0,120.4 54.3,118.8 54.5,117.3 54.8,115.7 55.0,114.9 55.2,114.3 55.5,112.8 55.8,111.5 56.2,110.1 56.5,108.8 56.7,108.3 56.9,107.5 57.3,106.2 57.7,105.0 58.2,103.8 58.3,103.4 58.6,102.6 59.0,101.5 59.5,100.3 60.0,99.2 60.5,98.2 60.8,97.4 61.0,97.1 61.5,96.0 62.0,94.9 62.6,93.9 63.1,92.9 63.3,92.5 63.7,91.9 64.3,91.0 64.9,90.1 65.5,89.2 66.1,88.3 66.7,87.5 66.7,87.5 67.4,86.6 68.0,85.8 68.7,84.9 69.4,84.1 70.0,83.3 70.1,83.2 70.8,82.4 71.5,81.5 72.3,80.6 72.4,80.4 73.0,79.7 73.8,78.7 74.6,77.7 75.0,77.3 75.4,76.9 76.2,76.1 77.0,75.3 77.9,74.5 78.7,73.8 79.6,73.0 80.5,72.3 81.3,71.6 82.2,70.8 83.2,70.1 84.1,69.4 85.0,68.7 86.0,68.0 87.0,67.3 87.9,66.5 88.9,65.8 90.0,65.0 90.0,65.0 91.0,64.2 92.0,63.4 93.1,62.6 94.1,61.8 95.2,60.9 96.3,60.1 97.4,59.3 98.5,58.5 99.7,57.6 100.8,56.8 102.0,56.0 103.1,55.1 104.3,54.3 104.9,53.9 105.5,53.5 106.7,52.7 107.9,51.8 109.2,51.0 110.4,50.2 111.7,49.4 113.0,48.6 113.7,48.2 114.3,47.9 115.6,47.2 116.9,46.5 118.2,45.8 119.6,45.2 120.9,44.5 122.3,43.9 122.5,43.8 123.7,43.3 125.1,42.8 126.5,42.3 127.9,41.8 129.4,41.3 130.8,40.7 131.3,40.5 132.3,40.2 133.8,39.6 135.3,39.0 136.8,38.5 138.3,37.9 139.8,37.3 140.0,37.3 141.4,36.8 142.9,36.2 144.5,35.7 146.1,35.1 147.7,34.6 148.8,34.2 149.3,34.1 150.9,33.6 152.6,33.0 154.2,32.5 155.9,32.1 157.6,31.6 157.6,31.6 159.2,31.2 161.0,30.8 162.7,30.4 164.4,30.0 165.0,29.8 166.2,29.6 167.9,29.2 169.6,28.8 169.7,28.8 171.5,28.3 173.3,27.8 175.1,27.3 176.9,26.7 178.8,26.3 179.0,26.2 180.6,25.8 182.5,25.4 184.4,25.0 186.3,24.7 188.2,24.4 188.5,24.3 190.1,24.1 192.0,23.8 194.0,23.6 195.9,23.4 197.9,23.2 198.0,23.2 199.9,22.9 201.9,22.7 203.9,22.4 205.9,22.2 207.5,22.0 208.0,22.0 210.0,21.9 212.1,21.7 214.2,21.6 216.3,21.5 218.4,21.4 220.5,21.4" fill="none" stroke="#4f8fc4" stroke-width="1.00" stroke-linejoin="round" stroke-linecap="round" />
<polyline points="51.3,147.3 51.3,146.7 51.3,123.3 51.4,123.3 51.4,120.8 51.5,120.8 51.6,120.8 51.6,118.3 51.7,118.3 51.8,118.3 51.8,116.0 51.9,116.0 52.0,116.0 52.0,113.7 52.1,113.7 52.2,113.7 52.2,111.3 52.3,111.3 52.4,111.3 52.4,109.0 52.5,109.0 52.6,109.0 52.6,106.7 52.7,106.7 53.2,106.7 53.2,105.0 53.8,105.0 54.6,105.0 54.6,103.3 55.5,103.3 55.9,103.3 55.9,100.0 56.3,100.0 56.8,100.0 56.8,98.3 57.2,98.3 57.3,98.3 57.3,96.0 57.4,96.0 57.5,96.0 57.5,93.7 57.6,93.7 57.8,93.7 57.8,91.3 57.9,91.3 58.0,91.3 58.0,89.0 58.1,89.0 58.2,89.0 58.2,86.7 58.3,86.7 59.1,86.7 59.1,85.8 60.0,85.8 60.6,85.8 60.6,83.3 61.3,83.3 61.9,83.3 61.9,80.8 62.5,80.8 63.2,80.8 63.2,78.3 63.8,78.3 64.7,78.3 64.7,76.7 65.5,76.7 66.8,76.7 66.8,75.0 68.0,75.0 68.8,75.0 68.8,73.3 69.7,73.3 71.0,73.3 71.0,70.0 72.2,70.0 72.8,70.0 72.8,67.9 73.5,67.9 74.1,67.9 74.1,65.8 74.7,65.8 76.0,65.8 76.0,64.2 77.2,64.2 77.4,64.2 77.4,62.1 77.6,62.1 77.8,62.1 77.8,60.0 78.0,60.0 78.8,60.0 78.8,57.5 79.7,57.5 79.8,57.5 79.8,55.3 80.0,55.3 80.1,55.3 80.1,53.0 80.2,53.0 80.4,53.0 80.4,50.8 80.5,50.8 81.8,50.8 81.8,50.0 83.0,50.0 83.4,50.0 83.4,49.2 83.8,49.2 84.7,49.2 84.7,47.5 85.5,47.5 86.0,47.5 86.0,45.0 86.5,45.0 87.0,45.0 87.0,42.5 87.5,42.5 88.8,42.5 88.8,42.2 90.2,42.2 91.5,42.2 91.5,42.0 92.8,42.0 94.2,42.0 94.2,41.7 95.5,41.7 96.8,41.7 96.8,41.6 98.0,41.6 99.2,41.6 99.2,41.4 100.5,41.4 101.8,41.4 101.8,41.3 103.0,41.3 104.2,41.3 104.2,41.1 105.5,41.1 106.8,41.1 106.8,41.0 108.0,41.0 109.4,41.0 109.4,40.8 110.8,40.8 112.3,40.8 112.3,40.5 113.7,40.5 114.8,40.5 114.8,39.9 115.8,39.9 116.9,39.9 116.9,39.3 118.0,39.3 119.0,39.3 119.0,38.7 120.1,38.7 121.3,38.7 121.3,38.7 122.4,38.7 123.6,38.7 123.6,38.6 124.8,38.6 126.0,38.6 126.0,38.6 127.1,38.6 128.3,38.6 128.3,38.5 129.5,38.5 130.6,38.5 130.6,38.5 131.8,38.5 133.0,38.5 133.0,38.4 134.2,38.4 135.3,38.4 135.3,38.4 136.5,38.4 137.7,38.4 137.7,38.0 138.9,38.0 140.2,38.0 140.2,37.7 141.4,37.7 142.6,37.7 142.6,37.3 143.8,37.3 145.2,37.3 145.2,36.3 146.6,36.3 147.9,36.3 147.9,35.4 149.3,35.4 150.7,35.4 150.7,34.8 152.0,34.8 153.3,34.8 153.3,34.2 154.7,34.2 155.9,34.2 155.9,33.9 157.1,33.9 158.3,33.9 158.3,33.5 159.6,33.5 160.8,33.5 160.8,33.2 162.0,33.2 163.2,33.2 163.2,33.1 164.4,33.1 165.7,33.1 165.7,33.0 166.9,33.0 168.1,33.0 168.1,32.9 169.3,32.9 171.2,32.9 171.2,31.8 173.0,31.8 174.8,31.8 174.8,31.1 176.6,31.1 178.0,31.1 178.0,30.4 179.3,30.4 180.7,30.4 180.7,29.6 182.1,29.6 183.5,29.6 183.5,29.1 184.8,29.1 186.2,29.1 186.2,28.7 187.6,28.7 189.4,28.7 189.4,27.4 191.2,27.4 193.1,27.4 193.1,26.3 194.9,26.3 196.3,26.3 196.3,25.6 197.7,25.6 199.0,25.6 199.0,25.0 200.4,25.0 201.8,25.0 201.8,24.4 203.1,24.4 204.5,24.4 204.5,23.8 205.8,23.8 207.7,23.8 207.7,22.7 209.5,22.7 210.9,22.7 210.9,22.3 212.2,22.3 213.6,22.3 213.6,21.9 215.0,21.9 216.3,21.9 216.3,21.6 217.7,21.6 219.1,21.6 219.1,21.4 220.4,21.4 220.5,21.4" fill="none" stroke="#3b3bff" stroke-width="1.00" stroke-linejoin="round" stroke-linecap="round" />
<polyline points="51.3,147.3 51.3,146.7 51.3,123.3 51.5,123.3 51.5,120.8 51.8,120.8 52.0,120.8 52.0,118.3 52.2,118.3 52.6,118.3 52.6,115.8 53.0,115.8 53.4,115.8 53.4,113.3 53.8,113.3 54.2,113.3 54.2,110.8 54.6,110.8 55.1,110.8 55.1,108.3 55.5,108.3 55.8,108.3 55.8,106.1 56.1,106.1 56.4,106.1 56.4,103.9 56.6,103.9 56.9,103.9 56.9,101.7 57.2,101.7 57.4,101.7 57.4,99.0 57.5,99.0 57.7,99.0 57.7,96.3 57.8,96.3 58.0,96.3 58.0,93.7 58.2,93.7 58.3,93.7 58.3,91.0 58.5,91.0 58.6,91.0 58.6,88.3 58.8,88.3 60.0,88.3 60.0,85.0 61.3,85.0 61.6,85.0 61.6,82.8 61.9,82.8 62.1,82.8 62.1,80.5 62.4,80.5 62.7,80.5 62.7,78.3 63.0,78.3 64.7,78.3 65.5,78.3 65.5,75.8 66.3,75.8 68.0,75.8 68.0,74.2 69.7,74.2 70.3,74.2 70.3,72.1 71.0,72.1 71.6,72.1 71.6,70.0 72.2,70.0 73.0,70.0 73.0,67.5 73.8,67.5 74.7,67.5 74.7,65.0 75.5,65.0 76.3,65.0 76.3,62.5 77.2,62.5 77.6,62.5 77.6,60.0 78.0,60.0 78.4,60.0 78.4,57.5 78.8,57.5 80.0,57.5 80.0,56.7 81.3,56.7 82.5,56.7 82.5,53.3 83.8,53.3 84.0,53.3 84.0,50.8 84.2,50.8 84.5,50.8 84.5,48.3 84.7,48.3 86.0,48.3 86.0,46.7 87.2,46.7 87.6,46.7 87.6,44.2 88.0,44.2 94.7,44.2 95.5,44.2 95.5,42.0 96.3,42.0 97.4,42.0 97.4,41.9 98.5,41.9 99.7,41.9 99.7,41.8 100.8,41.8 101.9,41.8 101.9,41.7 103.0,41.7 104.2,41.7 104.2,41.5 105.5,41.5 106.8,41.5 106.8,41.3 108.0,41.3 109.4,41.3 109.4,41.1 110.8,41.1 112.3,41.1 112.3,40.9 113.7,40.9 114.8,40.9 114.8,40.3 115.8,40.3 116.9,40.3 116.9,39.7 118.0,39.7 119.0,39.7 119.0,39.1 120.1,39.1 121.3,39.1 121.3,39.1 122.4,39.1 123.6,39.1 123.6,39.0 124.8,39.0 126.0,39.0 126.0,39.0 127.1,39.0 128.3,39.0 128.3,38.9 129.5,38.9 130.6,38.9 130.6,38.9 131.8,38.9 133.0,38.9 133.0,38.8 134.2,38.8 135.3,38.8 135.3,38.8 136.5,38.8 137.7,38.8 137.7,38.5 138.9,38.5 140.2,38.5 140.2,38.1 141.4,38.1 142.6,38.1 142.6,37.8 143.8,37.8 145.2,37.8 145.2,36.8 146.6,36.8 147.9,36.8 147.9,35.9 149.3,35.9 150.7,35.9 150.7,35.3 152.0,35.3 153.3,35.3 153.3,34.7 154.7,34.7 155.9,34.7 155.9,34.4 157.1,34.4 158.3,34.4 158.3,34.0 159.6,34.0 160.8,34.0 160.8,33.7 162.0,33.7 163.2,33.7 163.2,33.6 164.4,33.6 165.7,33.6 165.7,33.4 166.9,33.4 168.1,33.4 168.1,33.3 169.3,33.3 171.2,33.3 171.2,32.3 173.0,32.3 174.8,32.3 174.8,31.6 176.6,31.6 178.0,31.6 178.0,30.9 179.3,30.9 180.7,30.9 180.7,30.1 182.1,30.1 183.5,30.1 183.5,29.6 184.8,29.6 186.2,29.6 186.2,29.1 187.6,29.1 189.4,29.1 189.4,27.9 191.2,27.9 193.1,27.9 193.1,26.8 194.9,26.8 196.3,26.8 196.3,26.1 197.7,26.1 199.0,26.1 199.0,25.4 200.4,25.4 201.8,25.4 201.8,24.8 203.1,24.8 204.5,24.8 204.5,24.2 205.8,24.2 207.7,24.2 207.7,23.1 209.5,23.1 210.9,23.1 210.9,22.6 212.2,22.6 213.6,22.6 213.6,22.2 215.0,22.2 216.3,22.2 216.3,21.8 217.7,21.8 219.1,21.8 219.1,21.4 220.4,21.4 220.5,21.4" fill="none" stroke="#ff40ff" stroke-width="1.00" stroke-linejoin="round" stroke-linecap="round" />
<polyline points="279.6,147.3 279.6,146.6 279.7,146.6 279.7,144.4 279.8,144.4 279.8,144.4 279.8,142.1 279.9,142.1 280.0,142.1 280.0,139.8 280.0,139.8 280.1,139.8 280.1,137.5 280.1,137.5 280.5,137.5 280.5,134.2 281.0,134.2 281.8,134.2 281.8,130.9 282.6,130.9 283.4,130.9 283.4,127.6 284.3,127.6 285.1,127.6 285.1,124.3 285.9,124.3 286.8,124.3 286.8,121.8 287.6,121.8 289.2,121.8 289.2,120.2 290.9,120.2 291.7,120.2 291.7,119.3 292.5,119.3 293.8,119.3 293.8,117.7 295.0,117.7 295.9,117.7 295.9,115.2 296.7,115.2 297.9,115.2 297.9,113.6 299.2,113.6 300.0,113.6 300.0,111.9 300.8,111.9 302.1,111.9 302.1,111.1 303.3,111.1 304.5,111.1 304.5,110.2 305.8,110.2 307.0,110.2 307.0,109.4 308.3,109.4 309.1,109.4 309.1,107.8 309.9,107.8 311.2,107.8 311.2,106.9 312.4,106.9 313.6,106.9 313.6,106.1 314.9,106.1 315.7,106.1 315.7,104.5 316.5,104.5 317.4,104.5 317.4,102.8 318.2,102.8 319.4,102.8 319.4,102.0 320.7,102.0 321.9,102.0 321.9,100.3 323.2,100.3 323.6,100.3 323.6,97.8 324.0,97.8 324.8,97.8 324.8,96.2 325.6,96.2 326.9,96.2 326.9,95.4 328.1,95.4 329.4,95.4 329.4,94.5 330.6,94.5 331.8,94.5 331.8,92.9 333.1,92.9 333.3,92.9 333.3,90.8 333.5,90.8 333.7,90.8 333.7,88.7 333.9,88.7 335.1,88.7 335.1,86.3 336.4,86.3 337.2,86.3 337.2,82.9 338.0,82.9 339.3,82.9 339.3,81.3 340.5,81.3 340.9,81.3 340.9,79.6 341.4,79.6 342.6,79.6 342.6,78.0 343.8,78.0 344.7,78.0 344.7,76.3 345.5,76.3 346.3,76.3 346.3,74.7 347.1,74.7 348.4,74.7 348.4,72.2 349.6,72.2 350.5,72.2 350.5,70.5 351.3,70.5 351.3,69.1 352.9,69.1 352.9,66.1 354.5,66.1 355.6,66.1 355.6,65.9 356.7,65.9 357.8,65.9 357.8,65.6 358.9,65.6 360.1,65.6 360.1,65.4 361.2,65.4 362.3,65.4 362.3,61.7 363.4,61.7 363.8,61.7 363.8,57.9 364.1,57.9 365.3,57.9 365.3,56.5 366.4,56.5 367.9,56.5 367.9,55.0 369.4,55.0 370.5,55.0 370.5,52.2 371.6,52.2 372.7,52.2 372.7,49.5 373.8,49.5 375.3,49.5 375.3,48.3 376.8,48.3 378.3,48.3 378.3,45.3 379.8,45.3 380.5,45.3 380.5,41.6 381.3,41.6 382.8,41.6 382.8,40.1 384.2,40.1 385.0,40.1 385.0,37.8 385.7,37.8 386.9,37.8 386.9,37.5 388.0,37.5 389.1,37.5 389.1,37.1 390.2,37.1 391.3,37.1 391.3,36.0 392.4,36.0 393.6,36.0 393.6,34.9 394.7,34.9 395.8,34.9 395.8,33.8 396.9,33.8 398.0,33.8 398.0,32.6 399.1,32.6 400.6,32.6 400.6,31.5 402.1,31.5 403.6,31.5 403.6,30.4 405.1,30.4 406.2,30.4 406.2,28.9 407.3,28.9 408.4,28.9 408.4,27.1 409.6,27.1 410.7,27.1 410.7,25.2 411.8,25.2 412.9,25.2 412.9,24.8 414.0,24.8 415.1,24.8 415.1,24.5 416.3,24.5 417.4,24.5 417.4,24.1 418.5,24.1 420.0,24.1 420.0,23.7 421.5,23.7 423.0,23.7 423.0,23.3 424.4,23.3 425.7,23.3 425.7,23.0 427.0,23.0 428.3,23.0 428.3,22.8 429.6,22.8 430.8,22.8 430.8,22.6 432.1,22.6 433.4,22.6 433.4,22.4 434.7,22.4 435.9,22.4 435.9,22.2 437.2,22.2 438.5,22.2 438.5,22.0 439.8,22.0 441.0,22.0 441.0,21.8 442.3,21.8 443.8,21.8 443.8,21.6 445.3,21.6 446.8,21.6 446.8,21.5 448.3,21.5 448.4,21.5 448.4,21.4 448.6,21.4" fill="none" stroke="#3a9a44" stroke-width="1.00" stroke-linejoin="round" stroke-linecap="round" />
<polyline points="279.6,147.3 279.6,146.6 279.7,146.6 279.7,144.0 279.8,144.0 279.8,144.0 279.8,141.3 279.9,141.3 280.0,141.3 280.0,138.6 280.0,138.6 280.1,138.6 280.1,135.9 280.1,135.9 280.5,135.9 280.5,133.4 281.0,133.4 281.4,133.4 281.4,130.9 281.8,130.9 282.2,130.9 282.2,128.4 282.6,128.4 283.0,128.4 283.0,126.0 283.4,126.0 283.7,126.0 283.7,123.8 284.0,123.8 284.3,123.8 284.3,121.6 284.5,121.6 284.8,121.6 284.8,119.3 285.1,119.3 285.4,119.3 285.4,116.6 285.7,116.6 285.9,116.6 285.9,113.8 286.2,113.8 286.5,113.8 286.5,111.1 286.8,111.1 287.6,111.1 287.6,107.8 288.4,107.8 289.2,107.8 289.2,105.3 290.1,105.3 290.9,105.3 290.9,102.8 291.7,102.8 293.0,102.8 293.0,99.5 294.2,99.5 294.8,99.5 294.8,97.4 295.4,97.4 296.1,97.4 296.1,95.4 296.7,95.4 297.9,95.4 297.9,92.9 299.2,92.9 300.4,92.9 300.4,92.0 301.6,92.0 301.9,92.0 301.9,89.6 302.1,89.6 302.3,89.6 302.3,87.1 302.5,87.1 302.7,87.1 302.7,85.0 302.9,85.0 303.1,85.0 303.1,82.9 303.3,82.9 304.1,82.9 304.1,79.6 305.0,79.6 305.8,79.6 305.8,77.2 306.6,77.2 307.4,77.2 307.4,75.5 308.3,75.5 309.5,75.5 309.5,73.8 310.7,73.8 312.0,73.8 312.0,71.4 313.2,71.4 314.5,71.4 314.5,68.9 315.7,68.9 316.9,68.9 316.9,65.6 318.2,65.6 319.0,65.6 319.0,63.1 319.8,63.1 321.1,63.1 321.1,62.3 322.3,62.3 323.2,62.3 323.2,60.6 324.0,60.6 325.2,60.6 325.2,59.0 326.5,59.0 327.7,59.0 327.7,58.1 328.9,58.1 329.8,58.1 329.8,56.5 330.6,56.5 331.8,56.5 331.8,55.6 333.1,55.6 333.9,55.6 333.9,54.8 334.7,54.8 335.6,54.8 335.6,53.2 336.4,53.2 337.6,53.2 337.6,52.3 338.9,52.3 339.7,52.3 339.7,49.0 340.5,49.0 341.4,49.0 341.4,47.4 342.2,47.4 343.0,47.4 343.0,44.9 343.8,44.9 345.1,44.9 345.1,43.2 346.3,43.2 347.6,43.2 347.6,42.4 348.8,42.4 350.0,42.4 350.0,42.0 351.3,42.0 352.5,42.0 352.5,41.6 353.8,41.6 353.8,41.1 360.4,41.1 361.2,41.1 361.2,39.3 361.9,39.3 363.2,39.3 363.2,38.3 364.4,38.3 365.6,38.3 365.6,37.3 366.9,37.3 368.1,37.3 368.1,36.4 369.4,36.4 370.5,36.4 370.5,35.4 371.6,35.4 372.7,35.4 372.7,34.4 373.8,34.4 374.9,34.4 374.9,33.4 376.1,33.4 377.4,33.4 377.4,32.6 378.7,32.6 380.0,32.6 380.0,31.9 381.3,31.9 382.8,31.9 382.8,30.8 384.2,30.8 385.7,30.8 385.7,29.7 387.2,29.7 388.3,29.7 388.3,28.7 389.5,28.7 390.6,28.7 390.6,27.7 391.7,27.7 392.4,27.7 392.4,25.9 393.2,25.9 394.7,25.9 394.7,24.7 396.2,24.7 397.4,24.7 397.4,24.6 398.7,24.6 400.0,24.6 400.0,24.4 401.3,24.4 402.5,24.4 402.5,24.3 403.8,24.3 405.1,24.3 405.1,24.1 406.4,24.1 407.6,24.1 407.6,24.0 408.9,24.0 410.2,24.0 410.2,23.8 411.5,23.8 412.7,23.8 412.7,23.7 414.0,23.7 414.4,23.7 414.4,21.8 414.8,21.8 416.0,21.8 416.0,21.7 417.2,21.7 418.5,21.7 418.5,21.7 419.7,21.7 420.9,21.7 420.9,21.7 422.1,21.7 423.4,21.7 423.4,21.6 424.6,21.6 425.8,21.6 425.8,21.6 427.1,21.6 428.3,21.6 428.3,21.6 429.5,21.6 430.7,21.6 430.7,21.6 432.0,21.6 433.2,21.6 433.2,21.5 434.4,21.5 435.7,21.5 435.7,21.5 436.9,21.5 438.1,21.5 438.1,21.5 439.3,21.5 448.3,21.5 448.4,21.5 448.4,21.4 448.6,21.4" fill="none" stroke="#7ff4f4" stroke-width="1.00" stroke-linejoin="round" stroke-linecap="round" />
<polyline points="279.6,147.3 279.6,146.6 279.6,122.7 279.8,122.7 279.8,120.4 280.0,120.4 280.1,120.4 280.1,118.2 280.3,118.2 280.5,118.2 280.5,116.0 280.6,116.0 280.7,116.0 280.7,113.7 280.7,113.7 280.8,113.7 280.8,111.3 280.8,111.3 280.9,111.3 280.9,108.9 280.9,108.9 281.0,108.9 281.0,106.6 281.0,106.6 281.1,106.6 281.1,104.2 281.1,104.2 281.2,104.2 281.2,101.9 281.2,101.9 281.2,101.9 281.2,99.5 281.3,99.5 282.0,99.5 282.0,98.7 282.6,98.7 283.4,98.7 283.4,95.4 284.3,95.4 285.1,95.4 285.1,92.0 285.9,92.0 286.1,92.0 286.1,90.0 286.3,90.0 286.5,90.0 286.5,87.9 286.8,87.9 287.2,87.9 287.2,85.4 287.6,85.4 288.0,85.4 288.0,83.8 288.4,83.8 289.6,83.8 289.6,82.1 290.9,82.1 291.7,82.1 291.7,80.5 292.5,80.5 293.8,80.5 293.8,79.6 295.0,79.6 295.9,79.6 295.9,78.8 296.7,78.8 297.5,78.8 297.5,77.2 298.3,77.2 299.2,77.2 299.2,75.5 300.0,75.5 300.8,75.5 300.8,73.8 301.6,73.8 302.5,73.8 302.5,72.2 303.3,72.2 304.5,72.2 304.5,71.4 305.8,71.4 307.0,71.4 307.0,69.7 308.3,69.7 308.7,69.7 308.7,67.6 309.1,67.6 309.5,67.6 309.5,65.6 309.9,65.6 310.7,65.6 310.7,63.9 311.6,63.9 312.4,63.9 312.4,63.1 313.2,63.1 313.4,63.1 313.4,61.0 313.6,61.0 313.8,61.0 313.8,59.0 314.1,59.0 314.9,59.0 314.9,58.1 315.7,58.1 316.5,58.1 316.5,56.5 317.4,56.5 319.0,56.5 319.0,55.6 320.7,55.6 321.9,55.6 321.9,54.0 323.2,54.0 324.0,54.0 324.0,53.2 324.8,53.2 333.9,53.2 338.0,53.2 338.5,53.2 338.5,51.5 338.9,51.5 340.1,51.5 340.1,49.0 341.4,49.0 342.2,49.0 342.2,45.7 343.0,45.7 344.2,45.7 344.2,43.2 345.5,43.2 346.3,43.2 346.3,41.6 347.1,41.6 348.0,41.6 348.0,40.8 348.8,40.8 357.1,40.8 357.9,40.8 357.9,38.3 358.7,38.3 358.7,38.3 358.7,38.3 358.8,38.3 358.8,37.1 358.9,37.1 360.2,37.1 360.2,35.2 361.5,35.2 362.8,35.2 362.8,33.4 364.1,33.4 366.0,33.4 366.0,30.4 367.9,30.4 369.0,30.4 369.0,29.7 370.1,29.7 371.2,29.7 371.2,28.9 372.3,28.9 373.5,28.9 373.5,28.5 374.6,28.5 375.7,28.5 375.7,28.0 376.8,28.0 377.9,28.0 377.9,27.6 379.0,27.6 380.2,27.6 380.2,27.1 381.3,27.1 383.1,27.1 383.1,25.9 385.0,25.9 385.4,25.9 385.4,25.2 385.7,25.2 406.6,25.2 407.0,25.2 407.0,23.7 407.3,23.7 408.5,23.7 408.5,23.4 409.7,23.4 411.0,23.4 411.0,23.2 412.2,23.2 413.4,23.2 413.4,22.9 414.6,22.9 415.8,22.9 415.8,22.7 417.0,22.7 418.2,22.7 418.2,22.6 419.5,22.6 420.7,22.6 420.7,22.6 422.0,22.6 423.2,22.6 423.2,22.5 424.4,22.5 425.7,22.5 425.7,22.5 426.9,22.5 428.2,22.5 428.2,22.4 429.4,22.4 430.7,22.4 430.7,22.4 431.9,22.4 433.1,22.4 433.1,22.3 434.4,22.3 435.6,22.3 435.6,22.3 436.9,22.3 438.1,22.3 438.1,22.2 439.3,22.2 440.1,22.2 440.1,21.5 440.8,21.5 448.3,21.5 448.4,21.5 448.4,21.4 448.6,21.4" fill="none" stroke="#f0a04c" stroke-width="1.00" stroke-linejoin="round" stroke-linecap="round" />
<polyline points="506.3,147.3 506.3,145.8 506.4,145.8 506.4,143.6 506.6,143.6 506.7,143.6 506.7,141.4 506.9,141.4 507.0,141.4 507.0,139.2 507.1,139.2 508.0,139.2 508.0,135.9 508.8,135.9 510.0,135.9 510.0,132.6 511.3,132.6 512.9,132.6 512.9,130.1 514.6,130.1 515.0,130.1 515.0,128.0 515.4,128.0 515.8,128.0 515.8,126.0 516.2,126.0 516.9,126.0 516.9,123.9 517.5,123.9 518.1,123.9 518.1,121.8 518.7,121.8 518.9,121.8 518.9,118.9 519.1,118.9 519.3,118.9 519.3,116.0 519.5,116.0 520.8,116.0 520.8,112.7 522.0,112.7 523.3,112.7 523.3,111.1 524.5,111.1 526.2,111.1 526.2,109.4 527.8,109.4 529.1,109.4 529.1,107.8 530.3,107.8 531.5,107.8 531.5,105.3 532.8,105.3 533.2,105.3 533.2,103.2 533.6,103.2 534.0,103.2 534.0,101.1 534.4,101.1 535.3,101.1 535.3,97.8 536.1,97.8 536.9,97.8 536.9,96.2 537.7,96.2 539.4,96.2 539.4,94.5 541.1,94.5 542.7,94.5 542.7,92.9 544.4,92.9 545.2,92.9 545.2,92.0 546.0,92.0 546.8,92.0 546.8,89.6 547.7,89.6 548.1,89.6 548.1,87.1 548.5,87.1 548.9,87.1 548.9,85.0 549.3,85.0 549.7,85.0 549.7,82.9 550.2,82.9 550.6,82.9 550.6,79.6 551.0,79.6 551.8,79.6 551.8,77.2 552.6,77.2 553.9,77.2 553.9,73.8 555.1,73.8 556.4,73.8 556.4,72.2 557.6,72.2 558.0,72.2 558.0,70.1 558.4,70.1 558.8,70.1 558.8,68.1 559.3,68.1 560.1,68.1 560.1,64.7 560.9,64.7 562.1,64.7 562.1,63.9 563.4,63.9 564.6,63.9 564.6,62.3 565.9,62.3 569.2,62.3 570.0,62.3 570.0,60.6 570.8,60.6 572.1,60.6 572.1,59.8 573.3,59.8 574.6,59.8 574.6,59.0 575.8,59.0 577.0,59.0 577.0,58.1 578.3,58.1 579.5,58.1 579.5,57.3 580.8,57.3 581.6,57.3 581.6,56.5 582.4,56.5 585.7,56.5 587.4,56.5 587.4,55.6 589.0,55.6 589.4,55.6 589.4,53.2 589.9,53.2 590.3,53.2 590.3,50.7 590.7,50.7 590.7,49.8 592.4,49.8 592.4,48.1 594.1,48.1 595.2,48.1 595.2,47.3 596.2,47.3 597.2,47.3 597.2,46.5 598.3,46.5 599.3,46.5 599.3,45.6 600.4,45.6 601.4,45.6 601.4,44.8 602.4,44.8 603.3,44.8 603.3,41.5 604.1,41.5 605.8,41.5 605.8,39.8 607.4,39.8 608.7,39.8 608.7,37.3 609.9,37.3 611.2,37.3 611.2,36.5 612.4,36.5 613.7,36.5 613.7,35.6 614.9,35.6 616.2,35.6 616.2,35.0 617.4,35.0 618.7,35.0 618.7,34.3 619.9,34.3 621.2,34.3 621.2,33.6 622.4,33.6 623.9,33.6 623.9,33.0 625.3,33.0 626.8,33.0 626.8,32.3 628.2,32.3 629.3,32.3 629.3,31.8 630.5,31.8 631.6,31.8 631.6,31.2 632.7,31.2 633.8,31.2 633.8,30.6 634.9,30.6 636.1,30.6 636.1,29.8 637.4,29.8 638.6,29.8 638.6,29.0 639.9,29.0 641.1,29.0 641.1,28.1 642.4,28.1 643.6,28.1 643.6,27.3 644.9,27.3 646.5,27.3 646.5,24.0 648.2,24.0 649.9,24.0 649.9,23.2 651.5,23.2 652.9,23.2 652.9,22.6 654.3,22.6 655.7,22.6 655.7,22.0 657.1,22.0 658.5,22.0 658.5,21.5 659.9,21.5 661.1,21.5 661.1,21.4 662.4,21.4 663.6,21.4 663.6,21.4 664.9,21.4 674.8,21.4 675.1,21.4" fill="none" stroke="#87c8ee" stroke-width="1.00" stroke-linejoin="round" stroke-linecap="round" />
<polyline points="506.3,147.3 506.3,145.8 507.5,145.8 507.5,142.5 508.8,142.5 509.6,142.5 509.6,140.0 510.4,140.0 511.3,140.0 511.3,139.2 512.1,139.2 512.9,139.2 512.9,135.9 513.8,135.9 514.2,135.9 514.2,132.6 514.6,132.6 515.4,132.6 515.4,129.3 516.2,129.3 517.1,129.3 517.1,126.0 517.9,126.0 518.7,126.0 518.7,124.3 519.5,124.3 520.8,124.3 520.8,123.5 522.0,123.5 523.3,123.5 523.3,121.8 524.5,121.8 525.1,121.8 525.1,119.3 525.7,119.3 526.4,119.3 526.4,116.9 527.0,116.9 527.4,116.9 527.4,114.0 527.8,114.0 528.2,114.0 528.2,111.1 528.6,111.1 529.9,111.1 529.9,108.6 531.1,108.6 532.4,108.6 532.4,106.9 533.6,106.9 534.8,106.9 534.8,104.5 536.1,104.5 536.9,104.5 536.9,101.1 537.7,101.1 539.0,101.1 539.0,99.5 540.2,99.5 541.5,99.5 541.5,98.7 542.7,98.7 543.9,98.7 543.9,97.8 545.2,97.8 545.6,97.8 545.6,95.4 546.0,95.4 546.4,95.4 546.4,92.9 546.8,92.9 547.7,92.9 547.7,89.6 548.5,89.6 550.2,89.6 550.2,87.1 551.8,87.1 553.0,87.1 553.0,85.4 554.3,85.4 555.5,85.4 555.5,83.8 556.8,83.8 558.0,83.8 558.0,81.3 559.3,81.3 560.1,81.3 560.1,78.8 560.9,78.8 562.1,78.8 562.1,76.3 563.4,76.3 564.6,76.3 564.6,74.7 565.9,74.7 567.1,74.7 567.1,73.0 568.4,73.0 569.6,73.0 569.6,71.4 570.8,71.4 572.1,71.4 572.1,69.7 573.3,69.7 574.6,69.7 574.6,68.1 575.8,68.1 577.0,68.1 577.0,65.6 578.3,65.6 579.9,65.6 579.9,63.1 581.6,63.1 582.8,63.1 582.8,61.4 584.1,61.4 585.7,61.4 585.7,59.8 587.4,59.8 588.2,59.8 588.2,56.5 589.0,56.5 589.4,56.5 589.4,53.8 589.9,53.8 590.3,53.8 590.3,51.2 590.7,51.2 590.7,50.6 592.2,50.6 592.2,48.5 593.7,48.5 595.1,48.5 595.1,46.5 596.6,46.5 597.5,46.5 597.5,44.4 598.3,44.4 599.1,44.4 599.1,42.3 599.9,42.3 601.6,42.3 601.6,40.6 603.3,40.6 604.5,40.6 604.5,39.8 605.8,39.8 607.0,39.8 607.0,39.0 608.3,39.0 608.7,39.0 608.7,37.3 609.1,37.3 610.1,37.3 610.1,36.5 611.2,36.5 612.2,36.5 612.2,35.6 613.3,35.6 614.5,35.6 614.5,35.2 615.8,35.2 617.0,35.2 617.0,34.8 618.3,34.8 619.5,34.8 619.5,34.4 620.7,34.4 622.0,34.4 622.0,34.0 623.2,34.0 624.5,34.0 624.5,33.6 625.7,33.6 627.0,33.6 627.0,33.1 628.2,33.1 629.3,33.1 629.3,32.6 630.5,32.6 631.6,32.6 631.6,32.0 632.7,32.0 633.8,32.0 633.8,31.5 634.9,31.5 636.1,31.5 636.1,30.6 637.4,30.6 638.6,30.6 638.6,29.8 639.9,29.8 641.3,29.8 641.3,29.3 642.7,29.3 644.0,29.3 644.0,28.7 645.4,28.7 646.8,28.7 646.8,28.1 648.2,28.1 649.3,28.1 649.3,27.3 650.4,27.3 651.5,27.3 651.5,26.5 652.6,26.5 653.8,26.5 653.8,25.6 654.9,25.6 656.1,25.6 656.1,24.8 657.4,24.8 658.6,24.8 658.6,24.0 659.9,24.0 661.1,24.0 661.1,23.2 662.4,23.2 663.6,23.2 663.6,22.3 664.9,22.3 665.7,22.3 665.7,21.5 666.5,21.5 667.9,21.5 667.9,21.5 669.3,21.5 670.7,21.5 670.7,21.4 672.1,21.4 673.4,21.4 673.4,21.4 674.8,21.4 675.1,21.4" fill="none" stroke="#3f8a4f" stroke-width="1.00" stroke-linejoin="round" stroke-linecap="round" />
<polyline points="506.3,147.3 506.3,145.8 506.4,145.8 506.4,143.3 506.5,143.3 506.6,143.3 506.6,140.9 506.7,140.9 506.8,140.9 506.8,138.4 506.9,138.4 507.0,138.4 507.0,135.9 507.1,135.9 508.0,135.9 508.0,132.6 508.8,132.6 509.0,132.6 509.0,130.1 509.2,130.1 509.4,130.1 509.4,127.6 509.6,127.6 509.8,127.6 509.8,125.1 510.0,125.1 510.2,125.1 510.2,122.7 510.4,122.7 510.6,122.7 510.6,120.4 510.7,120.4 510.9,120.4 510.9,118.2 511.0,118.2 511.1,118.2 511.1,116.0 511.3,116.0 511.5,116.0 511.5,113.6 511.7,113.6 511.9,113.6 511.9,111.1 512.1,111.1 512.2,111.1 512.2,108.8 512.3,108.8 512.3,108.8 512.3,106.4 512.4,106.4 512.5,106.4 512.5,104.1 512.6,104.1 512.7,104.1 512.7,101.8 512.8,101.8 512.8,101.8 512.8,99.5 512.9,99.5 513.8,99.5 513.8,97.8 514.6,97.8 514.8,97.8 514.8,95.4 515.0,95.4 515.2,95.4 515.2,92.9 515.4,92.9 515.6,92.9 515.6,90.0 515.8,90.0 516.0,90.0 516.0,87.1 516.2,87.1 516.5,87.1 516.5,84.6 516.8,84.6 517.1,84.6 517.1,82.1 517.3,82.1 517.6,82.1 517.6,79.6 517.9,79.6 518.7,79.6 518.7,76.3 519.5,76.3 520.4,76.3 520.4,74.7 521.2,74.7 522.4,74.7 522.4,73.0 523.7,73.0 523.9,73.0 523.9,70.9 524.1,70.9 524.3,70.9 524.3,68.9 524.5,68.9 525.3,68.9 525.3,65.6 526.2,65.6 527.0,65.6 527.0,63.1 527.8,63.1 528.2,63.1 528.2,61.4 528.6,61.4 529.5,61.4 529.5,59.0 530.3,59.0 531.1,59.0 531.1,56.5 532.0,56.5 532.4,56.5 532.4,54.8 532.8,54.8 533.6,54.8 533.6,51.5 534.4,51.5 535.3,51.5 535.3,49.9 536.1,49.9 536.9,49.9 536.9,47.4 537.7,47.4 539.0,47.4 539.0,46.5 540.2,46.5 541.5,46.5 541.5,45.7 542.7,45.7 543.9,45.7 543.9,43.2 545.2,43.2 546.8,43.2 546.8,42.6 548.5,42.6 549.3,42.6 549.3,41.7 550.2,41.7 550.6,41.7 550.6,39.8 551.0,39.8 551.4,39.8 551.4,37.8 551.8,37.8 552.6,37.8 552.6,36.1 553.5,36.1 554.7,36.1 554.7,34.5 555.9,34.5 556.8,34.5 556.8,32.0 557.6,32.0 558.7,32.0 558.7,31.7 559.8,31.7 560.9,31.7 560.9,31.4 562.0,31.4 563.1,31.4 563.1,31.2 564.2,31.2 564.6,31.2 564.6,30.6 565.0,30.6 584.1,30.6 584.6,30.6 584.6,29.3 585.0,29.3 586.1,29.3 586.1,29.1 587.3,29.1 588.4,29.1 588.4,28.9 589.5,28.9 590.7,28.9 590.7,28.7 591.8,28.7 593.0,28.7 593.0,28.5 594.1,28.5 595.6,28.5 595.6,27.6 597.0,27.6 598.5,27.6 598.5,26.8 599.9,26.8 601.0,26.8 601.0,25.8 602.0,25.8 603.1,25.8 603.1,24.8 604.1,24.8 605.6,24.8 605.6,23.7 607.0,23.7 608.5,23.7 608.5,22.7 609.9,22.7 621.6,22.7 622.0,22.7 622.0,21.5 622.4,21.5 623.7,21.5 623.7,21.5 624.9,21.5 626.2,21.5 626.2,21.5 627.4,21.5 628.7,21.5 628.7,21.5 629.9,21.5 631.2,21.5 631.2,21.5 632.4,21.5 633.6,21.5 633.6,21.5 634.9,21.5 636.1,21.5 636.1,21.5 637.4,21.5 638.6,21.5 638.6,21.5 639.9,21.5 641.1,21.5 641.1,21.4 642.4,21.4 643.6,21.4 643.6,21.4 644.9,21.4 646.1,21.4 646.1,21.4 647.4,21.4 648.6,21.4 648.6,21.4 649.9,21.4 651.1,21.4 651.1,21.4 652.4,21.4 653.6,21.4 653.6,21.4 654.9,21.4 656.1,21.4 656.1,21.4 657.4,21.4 658.6,21.4 658.6,21.4 659.9,21.4 661.1,21.4 661.1,21.4 662.4,21.4 663.6,21.4 663.6,21.4 664.9,21.4 674.8,21.4 675.1,21.4" fill="none" stroke="#4a7fc1" stroke-width="1.00" stroke-linejoin="round" stroke-linecap="round" />
<polyline points="506.3,147.3 506.3,145.8 506.3,137.5 506.4,137.5 506.4,135.1 506.5,135.1 506.6,135.1 506.6,132.6 506.6,132.6 506.8,132.6 506.8,130.4 507.0,130.4 507.1,130.4 507.1,128.2 507.3,128.2 507.5,128.2 507.5,126.0 507.6,126.0 507.9,126.0 507.9,123.1 508.2,123.1 508.5,123.1 508.5,120.2 508.8,120.2 508.9,120.2 508.9,117.7 509.1,117.7 509.2,117.7 509.2,115.2 509.3,115.2 509.5,115.2 509.5,112.7 509.6,112.7 509.8,112.7 509.8,110.0 509.9,110.0 510.0,110.0 510.0,107.2 510.2,107.2 510.3,107.2 510.3,104.5 510.4,104.5 510.6,104.5 510.6,102.2 510.7,102.2 510.9,102.2 510.9,100.0 511.0,100.0 511.1,100.0 511.1,97.8 511.3,97.8 512.5,97.8 512.5,97.0 513.8,97.0 514.0,97.0 514.0,94.1 514.2,94.1 514.4,94.1 514.4,91.2 514.6,91.2 514.8,91.2 514.8,88.7 515.0,88.7 515.2,88.7 515.2,86.3 515.4,86.3 515.5,86.3 515.5,84.0 515.7,84.0 515.8,84.0 515.8,81.8 516.0,81.8 516.1,81.8 516.1,79.6 516.2,79.6 516.4,79.6 516.4,76.7 516.6,76.7 516.9,76.7 516.9,73.8 517.1,73.8 517.3,73.8 517.3,71.4 517.5,71.4 517.7,71.4 517.7,68.9 517.9,68.9 518.7,68.9 518.7,65.6 519.5,65.6 520.4,65.6 520.4,63.1 521.2,63.1 522.0,63.1 522.0,60.6 522.9,60.6 523.7,60.6 523.7,58.1 524.5,58.1 525.3,58.1 525.3,56.5 526.2,56.5 527.0,56.5 527.0,55.6 527.8,55.6 528.6,55.6 528.6,53.2 529.5,53.2 530.3,53.2 530.3,50.7 531.1,50.7 531.5,50.7 531.5,48.2 532.0,48.2 533.2,48.2 533.2,47.4 534.4,47.4 535.7,47.4 535.7,46.5 536.9,46.5 538.6,46.5 538.6,44.9 540.2,44.9 541.9,44.9 541.9,43.2 543.5,43.2 544.6,43.2 544.6,42.8 545.6,42.8 546.6,42.8 546.6,42.4 547.7,42.4 548.9,42.4 548.9,41.6 550.2,41.6 550.6,41.6 550.6,39.5 551.0,39.5 551.4,39.5 551.4,37.4 551.8,37.4 552.6,37.4 552.6,35.8 553.5,35.8 554.7,35.8 554.7,34.1 555.9,34.1 556.8,34.1 556.8,31.7 557.6,31.7 558.7,31.7 558.7,31.4 559.8,31.4 560.9,31.4 560.9,31.1 562.0,31.1 563.1,31.1 563.1,30.8 564.2,30.8 564.6,30.8 564.6,30.3 565.0,30.3 584.1,30.3 584.6,30.3 584.6,29.0 585.0,29.0 586.1,29.0 586.1,28.8 587.3,28.8 588.4,28.8 588.4,28.6 589.5,28.6 590.7,28.6 590.7,28.4 591.8,28.4 593.0,28.4 593.0,28.1 594.1,28.1 595.6,28.1 595.6,27.3 597.0,27.3 598.5,27.3 598.5,26.5 599.9,26.5 601.2,26.5 601.2,25.3 602.4,25.3 602.9,25.3 602.9,23.2 603.3,23.2 604.7,23.2 604.7,22.3 606.2,22.3 607.6,22.3 607.6,21.5 609.1,21.5 609.5,21.5 609.5,21.4 609.9,21.4 674.8,21.4 675.1,21.4" fill="none" stroke="#ff2a2a" stroke-width="1.35" stroke-linejoin="round" stroke-linecap="round" />
<polyline points="51.3,328.4 52.7,326.3 54.1,324.3 55.6,322.3 57.0,320.3 58.4,318.4 59.8,316.5 61.3,314.7 62.7,312.8 64.1,311.0 65.5,309.3 66.9,307.5 68.4,305.8 69.8,304.1 71.2,302.4 72.6,300.8 74.0,299.2 75.5,297.6 76.9,296.0 78.3,294.5 79.7,292.9 81.2,291.4 82.6,290.0 84.0,288.5 85.4,287.0 86.8,285.6 88.3,284.2 89.7,282.8 91.1,281.4 92.5,280.1 94.0,278.8 95.4,277.4 96.8,276.1 98.2,274.8 99.6,273.6 101.1,272.3 102.5,271.1 103.9,269.9 105.3,268.6 106.8,267.5 108.2,266.3 109.6,265.1 111.0,264.0 112.4,262.8 113.9,261.7 115.3,260.6 116.7,259.5 118.1,258.5 119.5,257.4 121.0,256.4 122.4,255.3 123.8,254.3 125.2,253.3 126.7,252.3 128.1,251.4 129.5,250.4 130.9,249.5 132.3,248.6 133.8,247.6 135.2,246.7 136.6,245.9 138.0,245.0 139.5,244.1 140.9,243.3 142.3,242.4 143.7,241.6 145.1,240.8 146.6,240.0 148.0,239.3 149.4,238.5 150.8,237.7 152.3,237.0 153.7,236.3 155.1,235.5 156.5,234.8 157.9,234.1 159.4,233.4 160.8,232.8 162.2,232.1 163.6,231.4 165.0,230.8 166.5,230.1 167.9,229.5 169.3,228.9 170.7,228.2 172.2,227.6 173.6,227.0 175.0,226.4 176.4,225.8 177.8,225.2 179.3,224.6 180.7,224.0 182.1,223.4 183.5,222.8 185.0,222.2 186.4,221.6 187.8,221.0 189.2,220.4 190.6,219.7 192.1,219.1 193.5,218.5 194.9,217.8 196.3,217.1 197.8,216.5 199.2,215.8 200.6,215.1 202.0,214.3 203.4,213.6 204.9,212.8 206.3,212.0 207.7,211.2 209.1,210.4 210.5,209.5 212.0,208.6 213.4,207.7 214.8,206.7 216.2,205.7 217.7,204.6 219.1,203.5 220.5,202.4" fill="none" stroke="#4f8fc4" stroke-width="1.00" stroke-linejoin="round" stroke-linecap="round" />
<polyline points="51.3,328.4 51.4,328.4 51.4,328.3 51.5,328.3 54.3,328.3 54.3,319.2 60.6,319.2 60.6,310.8 63.4,310.8 63.4,293.2 66.3,293.2 66.3,284.8 69.8,284.8 69.8,275.6 73.0,275.6 73.0,271.4 79.2,271.4 79.2,267.2 94.3,267.2 94.3,263.0 100.7,263.0 100.7,254.6 103.5,254.6 103.5,249.7 109.8,249.7 109.8,241.2 132.3,241.2 132.3,236.5 134.4,236.5 134.4,232.4 140.3,232.4 140.3,227.9 143.7,227.9 143.7,223.5 146.9,223.5 146.9,219.6 168.5,219.6 168.5,215.2 214.8,215.2 214.8,202.4 220.5,202.4 220.5,202.4" fill="none" stroke="#3b3bff" stroke-width="1.00" stroke-linejoin="round" stroke-linecap="round" />
<polyline points="51.3,328.4 51.4,328.4 51.4,328.3 51.5,328.3 54.3,328.3 54.3,315.0 57.8,315.0 57.8,311.2 61.3,311.2 61.3,306.5 63.7,306.5 63.7,289.0 69.8,289.0 69.8,284.8 73.3,284.8 73.3,275.6 79.2,275.6 79.2,271.4 88.7,271.4 88.7,267.2 100.7,267.2 100.7,258.8 104.2,258.8 104.2,245.4 107.0,245.4 107.0,241.2 131.6,241.2 131.6,236.7 138.1,236.7 138.1,232.3 144.0,232.3 144.0,227.9 147.6,227.9 147.6,223.5 150.5,223.5 150.5,219.6 153.5,219.6 153.5,215.2 199.5,215.2 199.5,210.8 205.3,210.8 205.3,206.5 211.9,206.5 211.9,202.4 220.5,202.4 220.5,202.4" fill="none" stroke="#ff40ff" stroke-width="1.00" stroke-linejoin="round" stroke-linecap="round" />
<polyline points="279.6,328.4 279.6,323.1 282.2,323.1 282.2,308.3 295.2,308.3 295.2,303.2 307.4,303.2 307.4,293.6 310.7,293.6 310.7,289.2 317.3,289.2 317.3,284.4 323.5,284.4 323.5,279.6 326.9,279.6 326.9,269.2 332.8,269.2 332.8,264.8 336.5,264.8 336.5,260.0 339.4,260.0 339.4,255.2 345.3,255.2 345.3,250.4 364.1,250.4 364.1,245.3 367.6,245.3 367.6,240.4 370.5,240.4 370.5,235.5 373.5,235.5 373.5,230.5 386.5,230.5 386.5,226.0 389.5,226.0 389.5,221.1 392.4,221.1 392.4,216.2 405.1,216.2 405.1,211.4 408.8,211.4 408.8,206.2 425.2,206.2 425.2,202.4 448.6,202.4" fill="none" stroke="#3a9a44" stroke-width="1.00" stroke-linejoin="round" stroke-linecap="round" />
<polyline points="279.6,328.4 282.2,328.4 282.2,309.1 291.5,309.1 291.5,299.5 301.1,299.5 301.1,294.3 304.0,294.3 304.0,289.5 307.3,289.5 307.3,284.7 310.7,284.7 310.7,275.1 314.3,275.1 314.3,270.0 317.3,270.0 317.3,265.1 323.5,265.1 323.5,260.4 329.8,260.4 329.8,255.2 332.8,255.2 332.8,250.4 336.5,250.4 336.5,245.4 345.3,245.4 345.3,230.9 374.6,230.9 374.6,226.0 386.5,226.0 386.5,221.1 387.2,221.1 387.2,216.2 396.2,216.2 396.2,211.4 408.8,211.4 408.8,206.2 425.2,206.2 425.2,202.4 448.6,202.4" fill="none" stroke="#7ff4f4" stroke-width="1.00" stroke-linejoin="round" stroke-linecap="round" />
<polyline points="279.6,328.4 279.6,280.3 282.2,280.3 282.2,270.4 298.1,270.4 298.1,265.3 307.4,265.3 307.4,260.4 317.3,260.4 317.3,255.5 323.5,255.5 323.5,250.4 326.9,250.4 326.9,245.4 329.8,245.4 329.8,240.5 342.4,240.5 342.4,235.6 348.3,235.6 348.3,230.9 361.6,230.9 361.6,226.0 383.5,226.0 383.5,221.1 392.4,221.1 392.4,216.2 418.5,216.2 418.5,206.2 437.1,206.2 437.1,202.4 448.6,202.4" fill="none" stroke="#f0a04c" stroke-width="1.00" stroke-linejoin="round" stroke-linecap="round" />
<polyline points="506.3,328.4 506.3,319.4 509.6,319.4 509.6,308.3 512.6,308.3 512.6,303.2 522.2,303.2 522.2,298.3 528.1,298.3 528.1,279.3 534.3,279.3 534.3,274.4 543.6,274.4 543.6,269.7 547.0,269.7 547.0,264.8 550.2,264.8 550.2,260.1 556.4,260.1 556.4,250.4 562.7,250.4 562.7,240.5 565.7,240.5 565.7,235.6 568.6,235.6 568.6,230.9 575.3,230.9 575.3,226.5 591.0,226.5 591.0,221.5 600.5,221.5 600.5,216.5 603.5,216.5 603.5,211.7 650.6,211.7 650.6,206.7 653.6,206.7 653.6,202.4 675.1,202.4" fill="none" stroke="#87c8ee" stroke-width="1.00" stroke-linejoin="round" stroke-linecap="round" />
<polyline points="506.3,328.4 506.3,308.3 512.6,308.3 512.6,289.2 522.2,289.2 522.2,284.3 537.7,284.3 537.7,279.3 547.0,279.3 547.0,274.4 553.1,274.4 553.1,269.5 556.4,269.5 556.4,264.8 559.8,264.8 559.8,260.1 569.1,260.1 569.1,250.4 578.5,250.4 578.5,235.6 581.4,235.6 581.4,226.5 600.5,226.5 600.5,221.5 616.0,221.5 616.0,216.5 625.4,216.5 625.4,206.7 628.4,206.7 628.4,202.4 675.1,202.4" fill="none" stroke="#3f8a4f" stroke-width="1.00" stroke-linejoin="round" stroke-linecap="round" />
<polyline points="506.3,328.4 506.3,323.1 509.2,323.1 509.2,284.7 512.6,284.7 512.6,260.1 515.5,260.1 515.5,255.2 518.5,255.2 518.5,245.4 522.2,245.4 522.2,235.6 544.0,235.6 544.0,231.2 553.1,231.2 553.1,224.9 557.0,224.9 557.0,221.0 562.6,221.0 562.6,216.7 581.4,216.7 581.4,206.9 641.5,206.9 641.5,202.4 675.1,202.4" fill="none" stroke="#4a7fc1" stroke-width="1.00" stroke-linejoin="round" stroke-linecap="round" />
<polyline points="506.3,328.4 506.3,318.2 508.9,318.2 508.9,284.7 512.6,284.7 512.6,245.4 515.5,245.4 515.5,235.6 545.6,235.6 545.6,231.1 553.1,231.1 553.1,224.7 557.0,224.7 557.0,220.8 562.6,220.8 562.6,216.5 581.4,216.5 581.4,206.7 612.6,206.7 612.6,202.4 675.1,202.4" fill="none" stroke="#ff2a2a" stroke-width="1.35" stroke-linejoin="round" stroke-linecap="round" />
<polyline points="51.3,511.5 52.7,508.8 54.1,506.2 55.6,503.7 57.0,501.3 58.4,499.0 59.8,496.7 61.3,494.5 62.7,492.4 64.1,490.3 65.5,488.4 66.9,486.4 68.4,484.5 69.8,482.7 71.2,480.9 72.6,479.2 74.0,477.5 75.5,475.9 76.9,474.3 78.3,472.7 79.7,471.2 81.2,469.7 82.6,468.2 84.0,466.8 85.4,465.4 86.8,464.1 88.3,462.7 89.7,461.4 91.1,460.1 92.5,458.9 94.0,457.6 95.4,456.4 96.8,455.2 98.2,454.0 99.6,452.9 101.1,451.7 102.5,450.6 103.9,449.5 105.3,448.4 106.8,447.3 108.2,446.3 109.6,445.2 111.0,444.2 112.4,443.1 113.9,442.1 115.3,441.1 116.7,440.1 118.1,439.1 119.5,438.1 121.0,437.2 122.4,436.2 123.8,435.3 125.2,434.3 126.7,433.4 128.1,432.5 129.5,431.6 130.9,430.6 132.3,429.8 133.8,428.9 135.2,428.0 136.6,427.1 138.0,426.3 139.5,425.4 140.9,424.6 142.3,423.8 143.7,422.9 145.1,422.1 146.6,421.3 148.0,420.5 149.4,419.7 150.8,419.0 152.3,418.2 153.7,417.5 155.1,416.7 156.5,416.0 157.9,415.2 159.4,414.5 160.8,413.8 162.2,413.1 163.6,412.4 165.0,411.8 166.5,411.1 167.9,410.4 169.3,409.8 170.7,409.1 172.2,408.5 173.6,407.8 175.0,407.2 176.4,406.6 177.8,406.0 179.3,405.4 180.7,404.8 182.1,404.2 183.5,403.6 185.0,403.0 186.4,402.4 187.8,401.8 189.2,401.2 190.6,400.6 192.1,400.0 193.5,399.4 194.9,398.8 196.3,398.2 197.8,397.6 199.2,397.0 200.6,396.3 202.0,395.7 203.4,395.0 204.9,394.4 206.3,393.7 207.7,393.0 209.1,392.3 210.5,391.5 212.0,390.7 213.4,389.9 214.8,389.1 216.2,388.3 217.7,387.4 219.1,386.5 220.5,385.5" fill="none" stroke="#4f8fc4" stroke-width="1.00" stroke-linejoin="round" stroke-linecap="round" />
<polyline points="51.3,511.5 51.3,511.3 51.3,506.2 54.5,506.2 54.6,506.2 54.6,504.0 54.7,504.0 54.7,504.0 54.7,501.9 54.8,501.9 54.9,501.9 54.9,499.7 54.9,499.7 55.1,499.7 55.1,496.8 55.2,496.8 56.3,496.8 56.3,495.4 57.4,495.4 57.4,488.8 58.5,488.8 58.5,486.7 59.6,486.7 59.9,486.7 59.9,483.8 60.3,483.8 62.1,483.8 62.1,483.1 63.9,483.1 65.0,483.1 65.0,480.9 66.1,480.9 69.7,480.9 70.4,480.9 70.4,478.0 71.1,478.0 72.2,478.0 72.2,476.6 73.3,476.6 73.4,476.6 73.4,473.9 73.6,473.9 73.7,473.9 73.7,471.2 73.8,471.2 73.9,471.2 73.9,468.6 74.0,468.6 74.8,468.6 74.8,467.9 75.5,467.9 75.5,461.4 80.6,461.4 80.6,448.3 85.6,448.3 85.6,445.4 90.0,445.4 90.3,445.4 90.3,444.0 90.7,444.0 94.3,444.0 95.7,444.0 95.7,442.6 97.2,442.6 97.9,442.6 97.9,440.4 98.6,440.4 100.1,440.4 100.1,437.5 101.5,437.5 101.7,437.5 101.7,435.3 101.9,435.3 102.1,435.3 102.1,433.1 102.3,433.1 102.6,433.1 102.6,431.0 103.0,431.0 103.3,431.0 103.3,428.8 103.7,428.8 110.2,428.8 110.9,428.8 110.9,427.4 111.7,427.4 113.1,427.4 113.1,425.9 114.6,425.9 116.0,425.9 116.0,424.5 117.4,424.5 117.8,424.5 117.8,421.6 118.2,421.6 119.3,421.6 119.3,420.1 120.3,420.1 121.8,420.1 121.8,418.0 123.2,418.0 124.0,418.0 124.0,415.8 124.7,415.8 124.7,415.8 124.7,415.8 124.7,410.6 125.8,410.6 125.8,409.8 126.9,409.8 128.0,409.8 128.0,409.1 129.2,409.1 130.3,409.1 130.3,408.3 131.4,408.3 140.5,408.3 140.5,403.0 142.0,403.0 142.0,402.3 143.5,402.3 144.9,402.3 144.9,402.0 146.3,402.0 147.7,402.0 147.7,401.7 149.1,401.7 150.5,401.7 150.5,401.5 151.9,401.5 152.3,401.5 152.3,398.5 152.6,398.5 153.9,398.5 153.9,398.3 155.1,398.3 156.3,398.3 156.3,398.1 157.6,398.1 158.8,398.1 158.8,397.9 160.0,397.9 161.3,397.9 161.3,397.7 162.5,397.7 163.6,397.7 163.6,396.9 164.8,396.9 165.9,396.9 165.9,396.2 167.1,396.2 173.1,396.2 174.5,396.2 174.5,395.0 175.8,395.0 177.1,395.0 177.1,393.9 178.4,393.9 179.4,393.9 179.4,393.5 180.3,393.5 181.3,393.5 181.3,393.1 182.2,393.1 183.0,393.1 183.0,391.6 183.8,391.6 194.4,391.6 194.8,391.6 194.8,390.1 195.1,390.1 202.7,390.1 203.1,390.1 203.1,387.8 203.5,387.8 212.6,387.8 213.4,387.8 213.4,387.1 214.1,387.1 215.6,387.1 215.6,386.3 217.2,386.3 218.7,386.3 218.7,385.6 220.2,385.6 220.3,385.6 220.3,385.5 220.5,385.5" fill="none" stroke="#3b3bff" stroke-width="1.00" stroke-linejoin="round" stroke-linecap="round" />
<polyline points="51.3,511.5 51.3,511.3 51.3,505.5 52.3,505.5 52.5,505.5 52.5,503.0 52.7,503.0 52.9,503.0 52.9,500.4 53.1,500.4 54.5,500.4 54.7,500.4 54.7,497.9 54.9,497.9 55.1,497.9 55.1,495.4 55.2,495.4 57.4,495.4 57.4,488.8 58.1,488.8 58.1,488.1 58.9,488.1 59.0,488.1 59.0,486.0 59.2,486.0 59.4,486.0 59.4,483.8 59.6,483.8 60.7,483.8 60.7,482.3 61.7,482.3 62.8,482.3 62.8,481.6 63.9,481.6 65.0,481.6 65.0,479.4 66.1,479.4 67.2,479.4 67.2,478.0 68.3,478.0 69.7,478.0 69.7,476.6 71.1,476.6 72.2,476.6 72.2,473.7 73.3,473.7 73.5,473.7 73.5,471.5 73.7,471.5 73.9,471.5 73.9,469.3 74.0,469.3 74.3,469.3 74.3,466.9 74.5,466.9 74.7,466.9 74.7,464.4 74.9,464.4 75.1,464.4 75.1,461.9 75.3,461.9 75.6,461.9 75.6,459.5 75.8,459.5 76.0,459.5 76.0,457.0 76.2,457.0 79.8,457.0 80.6,457.0 80.6,453.4 81.3,453.4 83.1,453.4 83.1,452.0 84.9,452.0 85.1,452.0 85.1,449.1 85.3,449.1 85.4,449.1 85.4,446.2 85.6,446.2 86.3,446.2 86.3,444.7 87.1,444.7 88.1,444.7 88.1,444.4 89.2,444.4 90.3,444.4 90.3,444.0 91.4,444.0 92.8,444.0 92.8,442.9 94.3,442.9 95.7,442.9 95.7,441.8 97.2,441.8 98.3,441.8 98.3,438.9 99.4,438.9 100.4,438.9 100.4,437.5 101.5,437.5 102.3,437.5 102.3,435.0 103.0,435.0 103.7,435.0 103.7,432.4 104.4,432.4 105.9,432.4 105.9,431.7 107.3,431.7 108.8,431.7 108.8,429.5 110.2,429.5 111.3,429.5 111.3,427.4 112.4,427.4 112.6,427.4 112.6,425.2 112.7,425.2 112.9,425.2 112.9,423.0 113.1,423.0 114.2,423.0 114.2,421.6 115.3,421.6 116.4,421.6 116.4,420.1 117.4,420.1 118.2,420.1 118.2,418.0 118.9,418.0 120.0,418.0 120.0,417.2 121.1,417.2 122.5,417.2 122.5,415.8 124.0,415.8 124.0,415.8 124.0,415.8 124.1,415.8 124.1,412.8 124.3,412.8 124.4,412.8 124.4,409.8 124.6,409.8 126.1,409.8 126.1,409.1 127.6,409.1 129.1,409.1 129.1,408.3 130.6,408.3 132.1,408.3 132.1,405.3 133.7,405.3 140.5,405.3 140.9,405.3 140.9,402.3 141.3,402.3 142.4,402.3 142.4,402.1 143.5,402.1 144.7,402.1 144.7,401.9 145.8,401.9 146.9,401.9 146.9,401.7 148.1,401.7 149.2,401.7 149.2,401.5 150.4,401.5 151.5,401.5 151.5,399.2 152.6,399.2 165.5,399.2 167.1,399.2 167.1,396.2 168.6,396.2 169.3,396.2 169.3,393.9 170.1,393.9 171.4,393.9 171.4,393.1 172.8,393.1 174.1,393.1 174.1,392.4 175.4,392.4 175.8,392.4 175.8,390.9 176.2,390.9 177.6,390.9 177.6,390.6 179.0,390.6 180.3,390.6 180.3,390.4 181.7,390.4 183.1,390.4 183.1,390.1 184.5,390.1 184.9,390.1 184.9,389.3 185.3,389.3 186.6,389.3 186.6,389.2 187.9,389.2 189.2,389.2 189.2,389.0 190.4,389.0 191.7,389.0 191.7,388.9 193.0,388.9 194.3,388.9 194.3,388.7 195.6,388.7 196.9,388.7 196.9,388.6 198.2,388.6 198.6,388.6 198.6,387.4 198.9,387.4 200.2,387.4 200.2,387.3 201.5,387.3 202.7,387.3 202.7,387.3 204.0,387.3 205.3,387.3 205.3,387.2 206.5,387.2 207.8,387.2 207.8,387.2 209.1,387.2 210.3,387.2 210.3,387.1 211.6,387.1 212.9,387.1 212.9,387.1 214.1,387.1 214.5,387.1 214.5,385.6 214.9,385.6 220.2,385.6 220.3,385.6 220.3,385.5 220.5,385.5" fill="none" stroke="#ff40ff" stroke-width="1.00" stroke-linejoin="round" stroke-linecap="round" />
<polyline points="279.6,511.5 279.6,511.3 282.5,511.3 282.6,511.3 282.6,508.7 282.7,508.7 282.7,508.7 282.7,506.1 282.8,506.1 282.9,506.1 282.9,503.5 282.9,503.5 283.0,503.5 283.0,500.9 283.1,500.9 283.2,500.9 283.2,498.3 283.2,498.3 288.3,498.3 288.3,496.8 289.4,496.8 289.4,495.4 290.5,495.4 291.6,495.4 291.6,493.9 292.6,493.9 292.8,493.9 292.8,491.5 292.9,491.5 293.0,491.5 293.0,489.1 293.1,489.1 293.2,489.1 293.2,486.7 293.4,486.7 297.0,486.7 297.1,486.7 297.1,484.5 297.2,484.5 297.3,484.5 297.3,482.3 297.5,482.3 297.6,482.3 297.6,480.2 297.7,480.2 298.8,480.2 298.8,479.8 299.9,479.8 301.0,479.8 301.0,479.4 302.0,479.4 302.4,479.4 302.4,478.0 302.8,478.0 304.6,478.0 304.6,477.3 306.4,477.3 307.8,477.3 307.8,475.1 309.3,475.1 310.0,475.1 310.0,473.7 310.7,473.7 312.2,473.7 312.2,472.2 313.6,472.2 315.1,472.2 315.1,470.8 316.5,470.8 317.6,470.8 317.6,469.3 318.7,469.3 318.7,465.0 320.5,465.0 320.5,463.5 322.3,463.5 324.1,463.5 324.1,462.1 325.9,462.1 327.0,462.1 327.0,461.4 328.1,461.4 329.2,461.4 329.2,460.6 330.3,460.6 331.0,460.6 331.0,457.7 331.7,457.7 331.9,457.7 331.9,454.8 332.1,454.8 332.2,454.8 332.2,452.0 332.4,452.0 338.9,452.0 339.3,452.0 339.3,448.3 339.7,448.3 340.7,448.3 340.7,448.0 341.8,448.0 342.9,448.0 342.9,447.6 344.0,447.6 345.4,447.6 345.4,446.2 346.9,446.2 348.0,446.2 348.0,445.1 349.1,445.1 350.1,445.1 350.1,444.0 351.2,444.0 352.5,444.0 352.5,443.6 353.8,443.6 355.0,443.6 355.0,443.3 356.3,443.3 356.3,443.3 357.1,443.3 357.3,443.3 357.3,441.0 357.5,441.0 357.7,441.0 357.7,438.7 357.9,438.7 359.0,438.7 359.0,437.2 360.1,437.2 360.1,430.3 367.0,430.3 367.4,430.3 367.4,427.3 367.7,427.3 368.7,427.3 368.7,426.5 369.6,426.5 370.6,426.5 370.6,425.8 371.5,425.8 372.7,425.8 372.7,425.6 373.8,425.6 374.9,425.6 374.9,425.3 376.1,425.3 376.2,425.3 376.2,423.0 376.2,423.0 376.3,423.0 376.3,420.7 376.4,420.7 376.5,420.7 376.5,418.3 376.5,418.3 376.6,418.3 376.6,416.0 376.7,416.0 376.8,416.0 376.8,413.6 376.8,413.6 377.6,413.6 377.6,412.1 378.4,412.1 379.5,412.1 379.5,411.9 380.6,411.9 381.8,411.9 381.8,411.7 382.9,411.7 384.1,411.7 384.1,411.6 385.2,411.6 386.3,411.6 386.3,411.4 387.5,411.4 388.2,411.4 388.2,410.6 389.0,410.6 390.3,410.6 390.3,410.5 391.5,410.5 392.8,410.5 392.8,410.4 394.1,410.4 395.3,410.4 395.3,410.2 396.6,410.2 397.8,410.2 397.8,410.1 399.1,410.1 400.4,410.1 400.4,410.0 401.6,410.0 402.9,410.0 402.9,409.8 404.2,409.8 404.6,409.8 404.6,407.6 404.9,407.6 406.1,407.6 406.1,406.0 407.2,406.0 408.0,406.0 408.0,403.8 408.7,403.8 409.5,403.8 409.5,401.5 410.2,401.5 411.8,401.5 411.8,399.2 413.3,399.2 414.8,399.2 414.8,398.8 416.3,398.8 417.8,398.8 417.8,398.5 419.4,398.5 420.1,398.5 420.1,396.9 420.9,396.9 422.4,396.9 422.4,396.6 423.9,396.6 425.4,396.6 425.4,396.2 426.9,396.2 427.7,396.2 427.7,394.7 428.5,394.7 430.0,394.7 430.0,393.1 431.5,393.1 433.0,393.1 433.0,390.9 434.5,390.9 435.7,390.9 435.7,390.5 436.8,390.5 437.9,390.5 437.9,390.1 439.1,390.1 440.0,390.1 440.0,389.3 441.0,389.3 441.9,389.3 441.9,388.6 442.9,388.6 443.3,388.6 443.3,386.3 443.6,386.3 444.8,386.3 444.8,385.9 445.9,385.9 447.1,385.9 447.1,385.6 448.2,385.6 448.4,385.6 448.4,385.5 448.6,385.5" fill="none" stroke="#3a9a44" stroke-width="1.00" stroke-linejoin="round" stroke-linecap="round" />
<polyline points="279.6,511.5 279.6,511.3 280.7,511.3 280.7,509.8 281.8,509.8 282.5,509.8 282.5,506.2 283.2,506.2 284.0,506.2 284.0,505.5 284.7,505.5 284.9,505.5 284.9,503.3 285.0,503.3 285.2,503.3 285.2,501.1 285.4,501.1 285.9,501.1 285.9,499.0 286.5,499.0 287.0,499.0 287.0,496.8 287.6,496.8 288.3,496.8 288.3,493.9 289.0,493.9 289.3,493.9 289.3,491.3 289.5,491.3 289.7,491.3 289.7,488.6 290.0,488.6 290.2,488.6 290.2,486.0 290.5,486.0 291.6,486.0 291.6,483.8 292.6,483.8 292.8,483.8 292.8,480.9 293.0,480.9 293.2,480.9 293.2,478.0 293.4,478.0 295.5,478.0 295.5,467.1 299.1,467.1 300.2,467.1 300.2,465.0 301.3,465.0 302.4,465.0 302.4,462.1 303.5,462.1 304.2,462.1 304.2,461.4 304.9,461.4 306.0,461.4 306.0,459.2 307.1,459.2 308.9,459.2 308.9,457.0 310.7,457.0 312.2,457.0 312.2,455.6 313.6,455.6 314.3,455.6 314.3,454.8 315.1,454.8 315.2,454.8 315.2,452.2 315.3,452.2 315.4,452.2 315.4,449.5 315.5,449.5 315.7,449.5 315.7,446.9 315.8,446.9 315.9,446.9 315.9,444.2 316.0,444.2 316.1,444.2 316.1,441.6 316.3,441.6 316.4,441.6 316.4,438.9 316.5,438.9 318.0,438.9 318.0,437.5 319.4,437.5 320.8,437.5 320.8,436.0 322.3,436.0 323.0,436.0 323.0,433.1 323.7,433.1 325.2,433.1 325.2,431.7 326.6,431.7 328.1,431.7 328.1,431.0 329.5,431.0 330.6,431.0 330.6,428.8 331.7,428.8 333.1,428.8 333.1,427.4 334.6,427.4 335.7,427.4 335.7,425.9 336.8,425.9 338.2,425.9 338.2,424.5 339.7,424.5 340.7,424.5 340.7,423.7 341.8,423.7 342.9,423.7 342.9,423.0 344.0,423.0 345.1,423.0 345.1,422.3 346.2,422.3 347.3,422.3 347.3,421.6 348.3,421.6 349.4,421.6 349.4,421.2 350.5,421.2 351.6,421.2 351.6,420.9 352.7,420.9 352.7,420.9 354.1,420.9 355.6,420.9 355.6,419.7 357.1,419.7 357.9,419.7 357.9,417.4 358.6,417.4 359.8,417.4 359.8,416.7 360.9,416.7 362.0,416.7 362.0,415.9 363.2,415.9 364.4,415.9 364.4,415.4 365.7,415.4 367.0,415.4 367.0,414.9 368.2,414.9 369.5,414.9 369.5,414.4 370.8,414.4 371.7,414.4 371.7,413.6 372.7,413.6 373.6,413.6 373.6,412.9 374.6,412.9 375.5,412.9 375.5,412.1 376.5,412.1 377.4,412.1 377.4,411.4 378.4,411.4 378.5,411.4 378.5,408.7 378.6,408.7 378.6,408.7 378.6,406.0 378.7,406.0 378.8,406.0 378.8,403.4 378.9,403.4 379.0,403.4 379.0,400.7 379.1,400.7 380.4,400.7 380.4,400.6 381.7,400.6 383.0,400.6 383.0,400.4 384.3,400.4 385.6,400.4 385.6,400.3 386.9,400.3 388.2,400.3 388.2,400.1 389.4,400.1 390.7,400.1 390.7,400.0 392.0,400.0 393.2,400.0 393.2,398.8 394.3,398.8 395.4,398.8 395.4,397.7 396.6,397.7 397.8,397.7 397.8,396.9 399.1,396.9 400.4,396.9 400.4,396.2 401.6,396.2 402.9,396.2 402.9,395.4 404.2,395.4 404.9,395.4 404.9,393.1 405.7,393.1 406.8,393.1 406.8,392.4 408.0,392.4 409.1,392.4 409.1,391.6 410.2,391.6 411.0,391.6 411.0,390.4 411.8,390.4 436.1,390.4 437.6,390.4 437.6,387.8 439.1,387.8 440.6,387.8 440.6,386.3 442.1,386.3 443.6,386.3 443.6,385.9 445.2,385.9 446.7,385.9 446.7,385.6 448.2,385.6 448.4,385.6 448.4,385.5 448.6,385.5" fill="none" stroke="#7ff4f4" stroke-width="1.00" stroke-linejoin="round" stroke-linecap="round" />
<polyline points="279.6,511.5 279.6,511.3 281.1,511.3 281.1,503.3 288.3,503.3 288.3,486.7 295.5,486.7 295.5,468.6 299.1,468.6 299.1,465.7 302.0,465.7 302.0,462.1 303.1,462.1 303.1,461.4 304.2,461.4 305.3,461.4 305.3,460.6 306.4,460.6 306.4,460.6 306.4,458.1 306.5,458.1 306.5,458.1 306.5,455.6 306.5,455.6 306.6,455.6 306.6,453.0 306.6,453.0 306.6,453.0 306.6,450.5 306.7,450.5 309.3,450.5 309.3,438.9 311.1,438.9 311.1,438.2 312.9,438.2 313.3,438.2 313.3,437.5 313.6,437.5 313.7,437.5 313.7,435.3 313.7,435.3 313.8,435.3 313.8,433.1 313.8,433.1 313.9,433.1 313.9,431.0 313.9,431.0 318.0,431.0 318.0,417.2 325.2,417.2 325.3,417.2 325.3,414.3 325.5,414.3 327.0,414.3 327.0,414.0 328.6,414.0 330.1,414.0 330.1,413.6 331.7,413.6 332.8,413.6 332.8,411.4 333.9,411.4 334.6,411.4 334.6,410.7 335.3,410.7 336.4,410.7 336.4,410.4 337.5,410.4 338.6,410.4 338.6,410.0 339.7,410.0 341.0,410.0 341.0,408.4 342.4,408.4 343.8,408.4 343.8,406.9 345.2,406.9 346.6,406.9 346.6,405.3 348.0,405.3 354.8,405.3 355.2,405.3 355.2,403.8 355.6,403.8 363.9,403.8 364.3,403.8 364.3,402.3 364.7,402.3 369.3,402.3 369.4,402.3 369.4,399.6 369.6,399.6 369.8,399.6 369.8,396.9 370.0,396.9 370.8,396.9 370.8,394.7 371.5,394.7 373.0,394.7 373.0,393.1 374.6,393.1 375.3,393.1 375.3,390.1 376.1,390.1 376.8,390.1 376.8,387.8 377.6,387.8 378.4,387.8 378.4,387.4 379.1,387.4 420.1,387.4 420.5,387.4 420.5,385.6 420.9,385.6 448.2,385.6 448.4,385.6 448.4,385.5 448.6,385.5" fill="none" stroke="#f0a04c" stroke-width="1.00" stroke-linejoin="round" stroke-linecap="round" />
<polyline points="506.3,511.5 506.3,510.8 507.1,510.8 507.1,507.5 508.0,507.5 508.2,507.5 508.2,505.3 508.5,505.3 508.8,505.3 508.8,503.1 509.1,503.1 509.3,503.1 509.3,500.9 509.6,500.9 509.7,500.9 509.7,498.3 509.8,498.3 509.9,498.3 509.9,495.6 510.0,495.6 510.0,495.6 510.0,493.0 510.1,493.0 510.2,493.0 510.2,490.3 510.3,490.3 510.4,490.3 510.4,487.7 510.4,487.7 510.6,487.7 510.6,485.5 510.7,485.5 510.9,485.5 510.9,483.3 511.0,483.3 511.1,483.3 511.1,481.0 511.3,481.0 511.5,481.0 511.5,478.8 511.8,478.8 512.1,478.8 512.1,476.6 512.4,476.6 512.7,476.6 512.7,474.4 512.9,474.4 513.3,474.4 513.3,471.7 513.8,471.7 514.2,471.7 514.2,468.9 514.6,468.9 515.0,468.9 515.0,466.2 515.4,466.2 515.8,466.2 515.8,462.8 516.2,462.8 516.3,462.8 516.3,460.2 516.4,460.2 516.5,460.2 516.5,457.5 516.7,457.5 516.8,457.5 516.8,454.8 516.9,454.8 517.0,454.8 517.0,452.1 517.1,452.1 522.9,452.1 522.9,449.6 523.4,449.6 523.4,447.1 524.0,447.1 524.5,447.1 524.5,444.6 525.1,444.6 525.6,444.6 525.6,442.2 526.2,442.2 527.4,442.2 527.4,441.3 528.6,441.3 529.1,441.3 529.1,438.4 529.5,438.4 529.9,438.4 529.9,435.5 530.3,435.5 531.5,435.5 531.5,433.9 532.8,433.9 534.0,433.9 534.0,431.4 535.3,431.4 535.7,431.4 535.7,428.1 536.1,428.1 536.7,428.1 536.7,425.2 537.3,425.2 538.0,425.2 538.0,422.3 538.6,422.3 539.6,422.3 539.6,421.5 540.6,421.5 541.7,421.5 541.7,420.6 542.7,420.6 544.4,420.6 544.4,419.8 546.0,419.8 547.3,419.8 547.3,419.4 548.5,419.4 549.7,419.4 549.7,419.0 551.0,419.0 552.2,419.0 552.2,418.6 553.5,418.6 554.7,418.6 554.7,418.2 556.0,418.2 557.2,418.2 557.2,417.3 558.4,417.3 559.7,417.3 559.7,416.5 560.9,416.5 561.9,416.5 561.9,415.8 563.0,415.8 564.0,415.8 564.0,415.1 565.0,415.1 566.2,415.1 566.2,414.7 567.5,414.7 568.7,414.7 568.7,414.3 570.0,414.3 571.4,414.3 571.4,412.9 572.8,412.9 574.2,412.9 574.2,411.5 575.5,411.5 576.9,411.5 576.9,410.1 578.3,410.1 578.7,410.1 578.7,408.0 579.1,408.0 579.6,408.0 579.6,406.0 580.0,406.0 581.0,406.0 581.0,405.5 582.1,405.5 583.1,405.5 583.1,405.1 584.1,405.1 584.3,405.1 584.3,402.6 584.6,402.6 584.8,402.6 584.8,400.1 585.0,400.1 586.4,400.1 586.4,399.9 587.7,399.9 589.1,399.9 589.1,399.6 590.5,399.6 591.9,399.6 591.9,399.3 593.3,399.3 593.5,399.3 593.5,397.2 593.7,397.2 593.9,397.2 593.9,395.1 594.1,395.1 595.5,395.1 595.5,394.9 596.8,394.9 598.2,394.9 598.2,394.7 599.5,394.7 600.9,394.7 600.9,394.5 602.2,394.5 603.6,394.5 603.6,394.3 604.9,394.3 605.4,394.3 605.4,392.3 605.8,392.3 607.0,392.3 607.0,392.1 608.3,392.1 609.5,392.1 609.5,392.0 610.8,392.0 612.0,392.0 612.0,391.8 613.3,391.8 614.1,391.8 614.1,390.2 614.9,390.2 616.2,390.2 616.2,389.9 617.4,389.9 618.7,389.9 618.7,389.7 619.9,389.7 621.2,389.7 621.2,389.5 622.4,389.5 623.7,389.5 623.7,389.3 624.9,389.3 625.3,389.3 625.3,387.7 625.7,387.7 626.9,387.7 626.9,387.5 628.1,387.5 629.3,387.5 629.3,387.4 630.5,387.4 631.6,387.4 631.6,387.2 632.8,387.2 634.0,387.2 634.0,387.1 635.2,387.1 636.4,387.1 636.4,387.0 637.5,387.0 638.7,387.0 638.7,386.8 639.9,386.8 640.3,386.8 640.3,386.3 640.7,386.3 671.5,386.3 673.2,386.3 673.2,385.5 674.8,385.5 675.1,385.5" fill="none" stroke="#87c8ee" stroke-width="1.00" stroke-linejoin="round" stroke-linecap="round" />
<polyline points="506.3,511.5 506.3,510.8 506.4,510.8 506.4,508.6 506.6,508.6 506.7,508.6 506.7,506.4 506.9,506.4 507.0,506.4 507.0,504.2 507.1,504.2 507.4,504.2 507.4,501.5 507.7,501.5 508.0,501.5 508.0,498.7 508.2,498.7 508.5,498.7 508.5,495.9 508.8,495.9 509.1,495.9 509.1,493.6 509.5,493.6 509.8,493.6 509.8,491.3 510.1,491.3 510.4,491.3 510.4,489.0 510.8,489.0 511.1,489.0 511.1,486.7 511.4,486.7 511.8,486.7 511.8,484.4 512.1,484.4 512.3,484.4 512.3,481.9 512.5,481.9 512.7,481.9 512.7,479.4 512.9,479.4 514.2,479.4 514.2,477.7 515.4,477.7 515.8,477.7 515.8,474.4 516.2,474.4 517.9,474.4 517.9,471.9 519.5,471.9 520.4,471.9 520.4,468.6 521.2,468.6 522.9,468.6 522.9,467.0 524.5,467.0 525.5,467.0 525.5,466.6 526.6,466.6 527.6,466.6 527.6,466.2 528.6,466.2 528.8,466.2 528.8,463.9 528.9,463.9 529.0,463.9 529.0,461.6 529.1,461.6 529.2,461.6 529.2,459.3 529.3,459.3 529.4,459.3 529.4,457.1 529.5,457.1 530.7,457.1 530.7,453.7 532.0,453.7 532.4,453.7 532.4,450.8 532.8,450.8 533.2,450.8 533.2,448.0 533.6,448.0 534.6,448.0 534.6,446.7 535.7,446.7 536.7,446.7 536.7,445.5 537.8,445.5 539.0,445.5 539.0,443.8 540.2,443.8 540.3,443.8 540.3,441.3 540.4,441.3 540.5,441.3 540.5,438.9 540.6,438.9 540.6,438.9 540.6,436.4 540.7,436.4 540.8,436.4 540.8,433.9 540.9,433.9 541.0,433.9 541.0,431.4 541.1,431.4 542.3,431.4 542.3,431.0 543.5,431.0 544.8,431.0 544.8,430.6 546.0,430.6 551.8,430.6 552.0,430.6 552.0,428.5 552.2,428.5 552.4,428.5 552.4,426.4 552.6,426.4 553.9,426.4 553.9,425.6 555.1,425.6 556.0,425.6 556.0,424.0 556.8,424.0 557.0,424.0 557.0,421.1 557.2,421.1 557.4,421.1 557.4,418.2 557.6,418.2 558.8,418.2 558.8,416.5 560.1,416.5 560.1,413.2 561.1,413.2 561.1,412.8 562.2,412.8 563.2,412.8 563.2,412.4 564.2,412.4 565.0,412.4 566.7,412.4 566.7,411.8 568.3,411.8 569.6,411.8 569.6,410.5 570.8,410.5 572.1,410.5 572.1,409.3 573.3,409.3 575.0,409.3 575.0,408.5 576.6,408.5 576.9,408.5 576.9,405.5 577.1,405.5 577.3,405.5 577.3,402.6 577.5,402.6 578.3,402.6 578.3,399.3 579.1,399.3 579.4,399.3 579.4,397.2 579.6,397.2 579.8,397.2 579.8,395.1 580.0,395.1 581.1,395.1 581.1,394.9 582.2,394.9 583.3,394.9 583.3,394.6 584.4,394.6 585.5,394.6 585.5,394.3 586.6,394.3 587.1,394.3 587.1,392.6 587.5,392.6 588.5,392.6 588.5,391.8 589.5,391.8 590.6,391.8 590.6,391.0 591.6,391.0 592.0,391.0 592.0,388.5 592.5,388.5 593.7,388.5 593.7,388.4 595.0,388.4 596.2,388.4 596.2,388.4 597.5,388.4 598.7,388.4 598.7,388.3 599.9,388.3 601.2,388.3 601.2,388.2 602.4,388.2 603.7,388.2 603.7,388.2 604.9,388.2 606.2,388.2 606.2,388.1 607.4,388.1 608.7,388.1 608.7,388.1 609.9,388.1 611.2,388.1 611.2,388.0 612.4,388.0 612.8,388.0 612.8,386.3 613.3,386.3 624.1,386.3 624.5,386.3 624.5,385.5 624.9,385.5 674.8,385.5 675.1,385.5" fill="none" stroke="#3f8a4f" stroke-width="1.00" stroke-linejoin="round" stroke-linecap="round" />
<polyline points="506.3,511.5 506.3,510.8 506.4,510.8 506.4,508.1 506.6,508.1 506.7,508.1 506.7,505.3 506.9,505.3 507.0,505.3 507.0,502.6 507.1,502.6 507.6,502.6 507.6,499.8 508.0,499.8 508.4,499.8 508.4,497.0 508.8,497.0 509.2,497.0 509.2,494.3 509.6,494.3 509.7,494.3 509.7,491.9 509.7,491.9 509.8,491.9 509.8,489.5 509.8,489.5 509.8,489.5 509.8,487.1 509.9,487.1 509.9,487.1 509.9,484.7 510.0,484.7 510.0,484.7 510.0,482.3 510.1,482.3 510.1,482.3 510.1,479.9 510.2,479.9 510.2,479.9 510.2,477.6 510.3,477.6 510.3,477.6 510.3,475.2 510.4,475.2 510.4,475.2 510.4,472.8 510.4,472.8 511.3,472.8 511.3,471.1 512.1,471.1 512.2,471.1 512.2,468.9 512.4,468.9 512.5,468.9 512.5,466.7 512.7,466.7 512.8,466.7 512.8,464.5 512.9,464.5 514.2,464.5 514.2,462.8 515.4,462.8 515.6,462.8 515.6,460.8 515.8,460.8 516.0,460.8 516.0,458.7 516.2,458.7 517.1,458.7 517.1,456.2 517.9,456.2 523.7,456.2 523.8,456.2 523.8,454.0 524.0,454.0 524.1,454.0 524.1,451.8 524.2,451.8 524.4,451.8 524.4,449.6 524.5,449.6 525.3,449.6 525.3,447.1 526.2,447.1 526.4,447.1 526.4,445.1 526.6,445.1 526.8,445.1 526.8,443.0 527.0,443.0 528.6,443.0 528.6,439.7 530.3,439.7 531.5,439.7 531.5,436.4 532.8,436.4 534.4,436.4 534.4,433.1 536.1,433.1 536.9,433.1 536.9,429.8 537.8,429.8 537.9,429.8 537.9,427.5 538.0,427.5 538.2,427.5 538.2,425.3 538.3,425.3 538.4,425.3 538.4,423.1 538.6,423.1 539.8,423.1 539.8,421.5 541.1,421.5 541.5,421.5 541.5,419.0 541.9,419.0 542.3,419.0 542.3,416.5 542.7,416.5 544.0,416.5 544.0,414.0 545.2,414.0 546.4,414.0 546.4,411.5 547.7,411.5 549.3,411.5 549.3,410.2 551.0,410.2 552.2,410.2 552.2,409.6 553.5,409.6 554.7,409.6 554.7,409.1 556.0,409.1 557.1,409.1 557.1,406.8 558.2,406.8 559.3,406.8 559.3,404.6 560.5,404.6 561.6,404.6 561.6,402.4 562.7,402.4 563.9,402.4 563.9,400.1 565.0,400.1 566.4,400.1 566.4,399.9 567.8,399.9 569.2,399.9 569.2,399.6 570.5,399.6 571.9,399.6 571.9,399.3 573.3,399.3 575.0,399.3 575.0,396.0 576.6,396.0 578.3,396.0 578.3,395.1 580.0,395.1 594.1,395.1 594.5,395.1 594.5,394.3 595.0,394.3 596.2,394.3 596.2,394.1 597.5,394.1 598.7,394.1 598.7,393.9 599.9,393.9 601.2,393.9 601.2,393.7 602.4,393.7 603.7,393.7 603.7,393.5 604.9,393.5 605.4,393.5 605.4,392.3 605.8,392.3 607.2,392.3 607.2,392.0 608.5,392.0 609.9,392.0 609.9,391.7 611.3,391.7 612.7,391.7 612.7,391.3 614.1,391.3 614.5,391.3 614.5,390.2 614.9,390.2 616.2,390.2 616.2,390.0 617.4,390.0 618.7,390.0 618.7,389.9 619.9,389.9 621.2,389.9 621.2,389.8 622.4,389.8 623.7,389.8 623.7,389.7 624.9,389.7 625.3,389.7 625.3,387.7 625.7,387.7 639.9,387.7 640.3,387.7 640.3,386.8 640.7,386.8 671.5,386.8 673.2,386.8 673.2,385.5 674.8,385.5 675.1,385.5" fill="none" stroke="#4a7fc1" stroke-width="1.00" stroke-linejoin="round" stroke-linecap="round" />
<polyline points="506.3,511.5 506.3,510.8 506.3,489.3 507.6,489.3 507.6,469.5 512.1,469.5 512.1,462.8 515.4,462.8 515.5,462.8 515.5,460.6 515.7,460.6 515.8,460.6 515.8,458.4 516.0,458.4 516.1,458.4 516.1,456.2 516.2,456.2 522.9,456.2 523.0,456.2 523.0,453.7 523.1,453.7 523.3,453.7 523.3,451.3 523.4,451.3 523.5,451.3 523.5,448.8 523.7,448.8 524.9,448.8 524.9,448.0 526.2,448.0 527.0,448.0 527.0,444.6 527.8,444.6 528.4,444.6 528.4,441.7 529.1,441.7 529.7,441.7 529.7,438.9 530.3,438.9 532.0,438.9 532.0,437.2 533.6,437.2 534.9,437.2 534.9,433.9 536.1,433.9 537.3,433.9 537.3,432.2 538.6,432.2 539.0,432.2 539.0,428.9 539.4,428.9 539.5,428.9 539.5,426.7 539.7,426.7 539.8,426.7 539.8,424.5 540.0,424.5 540.1,424.5 540.1,422.3 540.2,422.3 541.5,422.3 541.5,420.6 542.7,420.6 542.7,416.5 546.0,416.5 546.2,416.5 546.2,414.4 546.4,414.4 546.6,414.4 546.6,412.4 546.9,412.4 547.9,412.4 547.9,412.0 548.9,412.0 550.0,412.0 550.0,411.5 551.0,411.5 551.8,411.5 551.8,409.9 552.6,409.9 554.3,409.9 554.3,408.2 556.0,408.2 556.2,408.2 556.2,405.8 556.4,405.8 556.6,405.8 556.6,403.3 556.8,403.3 558.0,403.3 558.0,401.6 559.3,401.6 560.6,401.6 560.6,400.6 561.9,400.6 563.3,400.6 563.3,399.6 564.6,399.6 566.0,399.6 566.0,398.6 567.3,398.6 568.7,398.6 568.7,397.6 570.0,397.6 570.8,397.6 570.8,395.1 571.7,395.1 572.1,395.1 572.1,393.0 572.5,393.0 585.8,393.0 586.2,393.0 586.2,391.8 586.6,391.8 588.0,391.8 588.0,391.5 589.4,391.5 590.8,391.5 590.8,391.3 592.2,391.3 593.6,391.3 593.6,391.0 595.0,391.0 595.4,391.0 595.4,389.7 595.8,389.7 623.2,389.7 623.9,389.7 623.9,387.6 624.5,387.6 625.1,387.6 625.1,385.5 625.7,385.5 674.8,385.5 675.1,385.5" fill="none" stroke="#ff2a2a" stroke-width="1.35" stroke-linejoin="round" stroke-linecap="round" />
<polyline points="51.3,693.5 52.7,691.1 54.1,688.8 55.6,686.5 57.0,684.4 58.4,682.3 59.8,680.3 61.3,678.3 62.7,676.4 64.1,674.6 65.5,672.8 66.9,671.1 68.4,669.5 69.8,667.9 71.2,666.3 72.6,664.8 74.0,663.3 75.5,661.8 76.9,660.4 78.3,659.1 79.7,657.7 81.2,656.4 82.6,655.1 84.0,653.9 85.4,652.6 86.8,651.4 88.3,650.2 89.7,649.0 91.1,647.9 92.5,646.7 94.0,645.6 95.4,644.5 96.8,643.4 98.2,642.3 99.6,641.2 101.1,640.1 102.5,639.0 103.9,638.0 105.3,636.9 106.8,635.9 108.2,634.8 109.6,633.8 111.0,632.8 112.4,631.7 113.9,630.7 115.3,629.7 116.7,628.6 118.1,627.6 119.5,626.6 121.0,625.6 122.4,624.6 123.8,623.6 125.2,622.6 126.7,621.6 128.1,620.5 129.5,619.5 130.9,618.5 132.3,617.5 133.8,616.6 135.2,615.6 136.6,614.6 138.0,613.6 139.5,612.6 140.9,611.6 142.3,610.6 143.7,609.7 145.1,608.7 146.6,607.7 148.0,606.8 149.4,605.8 150.8,604.9 152.3,603.9 153.7,603.0 155.1,602.1 156.5,601.2 157.9,600.2 159.4,599.3 160.8,598.4 162.2,597.5 163.6,596.7 165.0,595.8 166.5,594.9 167.9,594.1 169.3,593.2 170.7,592.4 172.2,591.6 173.6,590.8 175.0,589.9 176.4,589.1 177.8,588.4 179.3,587.6 180.7,586.8 182.1,586.1 183.5,585.3 185.0,584.6 186.4,583.8 187.8,583.1 189.2,582.4 190.6,581.7 192.1,581.0 193.5,580.3 194.9,579.6 196.3,578.9 197.8,578.3 199.2,577.6 200.6,576.9 202.0,576.3 203.4,575.6 204.9,575.0 206.3,574.3 207.7,573.6 209.1,573.0 210.5,572.3 212.0,571.6 213.4,571.0 214.8,570.3 216.2,569.6 217.7,568.9 219.1,568.1 220.5,567.4" fill="none" stroke="#4f8fc4" stroke-width="1.00" stroke-linejoin="round" stroke-linecap="round" />
<polyline points="51.3,693.5 51.3,693.5 51.7,693.5 51.7,690.8 52.0,690.8 52.2,690.8 52.2,688.8 52.3,688.8 52.5,688.8 52.5,686.8 52.7,686.8 53.3,686.8 53.3,686.1 54.0,686.1 54.7,686.1 54.7,684.1 55.3,684.1 56.0,684.1 56.0,683.4 56.7,683.4 57.3,683.4 57.3,680.1 58.0,680.1 58.2,680.1 58.2,677.4 58.3,677.4 58.5,677.4 58.5,674.8 58.7,674.8 62.0,674.8 62.4,674.8 62.4,674.1 62.7,674.1 64.4,674.1 64.4,672.1 66.0,672.1 66.2,672.1 66.2,669.4 66.4,669.4 66.5,669.4 66.5,666.8 66.7,666.8 68.0,666.8 68.0,666.1 69.4,666.1 69.5,666.1 69.5,663.1 69.7,663.1 69.9,663.1 69.9,660.1 70.0,660.1 70.7,660.1 70.7,659.4 71.4,659.4 71.4,649.4 80.0,649.4 80.7,649.4 80.7,646.7 81.4,646.7 82.0,646.7 82.0,644.7 82.7,644.7 82.8,644.7 82.8,642.1 82.9,642.1 83.0,642.1 83.0,639.4 83.2,639.4 83.3,639.4 83.3,636.7 83.4,636.7 90.7,636.7 91.4,636.7 91.4,634.7 92.1,634.7 92.7,634.7 92.7,631.4 93.4,631.4 93.7,631.4 93.7,630.7 94.1,630.7 101.4,630.7 101.6,630.7 101.6,628.4 101.7,628.4 101.9,628.4 101.9,626.0 102.1,626.0 102.4,626.0 102.4,624.7 102.7,624.7 103.4,624.7 103.4,622.0 104.1,622.0 104.4,622.0 104.4,620.0 104.7,620.0 109.4,620.0 109.7,620.0 109.7,617.4 110.1,617.4 111.4,617.4 111.4,617.0 112.8,617.0 114.1,617.0 114.1,616.7 115.4,616.7 115.8,616.7 115.8,616.0 116.1,616.0 117.3,616.0 117.3,615.7 118.4,615.7 119.6,615.7 119.6,615.4 120.8,615.4 128.1,615.4 128.3,615.4 128.3,613.4 128.4,613.4 128.6,613.4 128.6,611.3 128.8,611.3 129.8,611.3 129.8,610.7 130.8,610.7 131.1,610.7 131.1,609.3 131.4,609.3 132.6,609.3 132.6,608.7 133.8,608.7 134.9,608.7 134.9,608.0 136.1,608.0 136.5,608.0 136.5,606.7 136.8,606.7 136.8,606.7 136.8,606.7 136.8,606.7 138.2,606.7 138.2,603.1 139.6,603.1 139.8,603.1 139.8,601.0 140.0,601.0 140.1,601.0 140.1,598.8 140.3,598.8 149.8,598.8 149.8,592.2 153.5,592.2 154.6,592.2 154.6,591.5 155.7,591.5 156.8,591.5 156.8,590.7 157.8,590.7 158.9,590.7 158.9,590.0 160.0,590.0 161.1,590.0 161.1,589.5 162.2,589.5 163.3,589.5 163.3,589.0 164.4,589.0 165.5,589.0 165.5,588.5 166.6,588.5 167.7,588.5 167.7,586.7 168.8,586.7 169.9,586.7 169.9,584.9 171.0,584.9 172.1,584.9 172.1,583.9 173.2,583.9 174.3,583.9 174.3,583.0 175.4,583.0 176.5,583.0 176.5,582.0 177.6,582.0 181.9,582.0 182.1,582.0 182.1,579.8 182.3,579.8 182.5,579.8 182.5,577.6 182.7,577.6 183.9,577.6 183.9,575.8 185.2,575.8 186.5,575.8 186.5,573.9 187.8,573.9 189.2,573.9 189.2,573.6 190.7,573.6 192.2,573.6 192.2,573.2 193.6,573.2 194.3,573.2 194.3,571.8 195.1,571.8 195.4,571.8 195.4,569.6 195.8,569.6 196.2,569.6 196.2,567.4 196.5,567.4 219.2,567.4 220.5,567.4" fill="none" stroke="#3b3bff" stroke-width="1.00" stroke-linejoin="round" stroke-linecap="round" />
<polyline points="51.3,693.5 51.3,693.5 51.7,693.5 51.7,692.1 52.0,692.1 52.1,692.1 52.1,689.9 52.2,689.9 52.3,689.9 52.3,687.7 52.5,687.7 52.6,687.7 52.6,685.4 52.7,685.4 53.7,685.4 53.7,684.8 54.7,684.8 55.3,684.8 55.3,682.8 56.0,682.8 56.7,682.8 56.7,682.1 57.3,682.1 57.7,682.1 57.7,678.8 58.0,678.8 58.3,678.8 58.3,678.1 58.7,678.1 59.7,678.1 59.7,677.4 60.7,677.4 61.7,677.4 61.7,674.8 62.7,674.8 63.7,674.8 63.7,673.4 64.7,673.4 65.7,673.4 65.7,672.1 66.7,672.1 67.0,672.1 67.0,669.4 67.4,669.4 69.0,669.4 69.0,666.8 70.7,666.8 71.4,666.8 71.4,665.4 72.0,665.4 72.1,665.4 72.1,662.8 72.2,662.8 72.3,662.8 72.3,660.1 72.4,660.1 72.4,660.1 72.4,657.4 72.5,657.4 72.6,657.4 72.6,654.7 72.7,654.7 73.0,654.7 73.0,652.7 73.4,652.7 74.4,652.7 74.4,651.4 75.4,651.4 76.5,651.4 76.5,651.1 77.7,651.1 78.9,651.1 78.9,650.7 80.0,650.7 81.0,650.7 81.0,650.1 82.0,650.1 82.3,650.1 82.3,647.6 82.5,647.6 82.7,647.6 82.7,645.2 82.9,645.2 83.2,645.2 83.2,642.7 83.4,642.7 83.7,642.7 83.7,640.1 84.0,640.1 88.1,640.1 88.7,640.1 88.7,639.4 89.4,639.4 90.1,639.4 90.1,638.1 90.7,638.1 91.4,638.1 91.4,635.4 92.1,635.4 92.7,635.4 92.7,632.0 93.4,632.0 94.7,632.0 94.7,631.4 96.1,631.4 97.4,631.4 97.4,630.7 98.7,630.7 100.1,630.7 100.1,630.0 101.4,630.0 102.1,630.0 102.1,626.7 102.7,626.7 103.4,626.7 103.4,624.7 104.1,624.7 104.2,624.7 104.2,622.4 104.4,622.4 104.6,622.4 104.6,620.0 104.7,620.0 106.2,620.0 106.2,619.7 107.7,619.7 109.2,619.7 109.2,619.4 110.8,619.4 111.4,619.4 111.4,618.0 112.1,618.0 113.8,618.0 113.8,617.4 115.4,617.4 115.8,617.4 115.8,616.0 116.1,616.0 117.1,616.0 117.1,615.4 118.1,615.4 119.1,615.4 119.1,614.7 120.1,614.7 121.4,614.7 121.4,614.2 122.8,614.2 124.1,614.2 124.1,613.8 125.4,613.8 126.8,613.8 126.8,613.4 128.1,613.4 128.8,613.4 128.8,611.3 129.4,611.3 130.6,611.3 130.6,610.9 131.7,610.9 132.8,610.9 132.8,610.5 133.9,610.5 135.0,610.5 135.0,610.0 136.1,610.0 136.5,610.0 136.5,608.0 136.8,608.0 136.8,608.0 136.8,608.0 137.1,608.0 137.1,607.5 137.4,607.5 138.1,607.5 138.1,603.9 138.9,603.9 139.2,603.9 139.2,601.7 139.6,601.7 140.7,601.7 140.7,601.2 141.8,601.2 142.9,601.2 142.9,600.7 144.0,600.7 145.1,600.7 145.1,600.2 146.2,600.2 146.4,600.2 146.4,597.7 146.5,597.7 146.7,597.7 146.7,595.1 146.9,595.1 147.6,595.1 147.6,592.9 148.4,592.9 149.1,592.9 149.1,590.7 149.8,590.7 150.9,590.7 150.9,590.6 152.0,590.6 153.1,590.6 153.1,590.4 154.2,590.4 155.3,590.4 155.3,590.2 156.4,590.2 157.5,590.2 157.5,590.0 158.6,590.0 159.3,590.0 159.3,588.5 160.0,588.5 161.3,588.5 161.3,587.7 162.5,587.7 163.7,587.7 163.7,586.9 164.9,586.9 166.1,586.9 166.1,586.1 167.3,586.1 168.5,586.1 168.5,586.0 169.7,586.0 170.8,586.0 170.8,585.9 172.0,585.9 173.2,585.9 173.2,585.8 174.3,585.8 175.5,585.8 175.5,585.7 176.7,585.7 177.8,585.7 177.8,585.6 179.0,585.6 180.1,585.6 180.1,584.2 181.2,584.2 181.6,584.2 181.6,581.6 181.9,581.6 182.3,581.6 182.3,579.1 182.7,579.1 183.0,579.1 183.0,576.5 183.4,576.5 183.8,576.5 183.8,573.9 184.1,573.9 185.9,573.9 185.9,571.5 187.8,571.5 189.0,571.5 189.0,571.3 190.2,571.3 191.4,571.3 191.4,571.2 192.6,571.2 193.9,571.2 193.9,571.0 195.1,571.0 195.4,571.0 195.4,567.4 195.8,567.4 219.2,567.4 220.5,567.4" fill="none" stroke="#ff40ff" stroke-width="1.00" stroke-linejoin="round" stroke-linecap="round" />
<polyline points="279.6,693.5 279.6,693.5 280.5,693.5 280.5,692.1 281.3,692.1 282.7,692.1 282.7,690.8 284.0,690.8 285.3,690.8 285.3,688.1 286.7,688.1 286.8,688.1 286.8,685.4 287.0,685.4 287.2,685.4 287.2,682.8 287.3,682.8 287.5,682.8 287.5,680.1 287.7,680.1 287.8,680.1 287.8,677.4 288.0,677.4 288.3,677.4 288.3,674.1 288.7,674.1 292.0,674.1 293.0,674.1 293.0,673.1 294.0,673.1 295.0,673.1 295.0,672.1 296.0,672.1 296.7,672.1 296.7,670.8 297.4,670.8 298.7,670.8 298.7,670.1 300.0,670.1 301.4,670.1 301.4,669.4 302.7,669.4 303.4,669.4 303.4,668.1 304.0,668.1 305.0,668.1 305.0,667.8 306.0,667.8 307.0,667.8 307.0,667.4 308.0,667.4 308.7,667.4 308.7,666.1 309.4,666.1 310.4,666.1 310.4,665.4 311.4,665.4 311.4,665.4 311.4,663.1 311.5,663.1 311.5,663.1 311.5,660.7 311.6,660.7 311.7,660.7 311.7,658.4 311.7,658.4 311.8,658.4 311.8,656.1 311.8,656.1 311.9,656.1 311.9,653.7 311.9,653.7 312.0,653.7 312.0,651.4 312.0,651.4 319.4,651.4 319.5,651.4 319.5,648.7 319.6,648.7 319.7,648.7 319.7,646.1 319.8,646.1 319.9,646.1 319.9,643.4 320.1,643.4 330.7,643.4 331.4,643.4 331.4,640.4 332.1,640.4 332.7,640.4 332.7,637.4 333.4,637.4 334.7,637.4 334.7,636.0 336.1,636.0 336.7,636.0 336.7,632.7 337.4,632.7 338.4,632.7 338.4,632.4 339.4,632.4 340.4,632.4 340.4,632.0 341.4,632.0 342.1,632.0 342.1,629.4 342.8,629.4 343.4,629.4 343.4,626.7 344.1,626.7 345.4,626.7 345.4,625.4 346.8,625.4 347.4,625.4 347.4,624.0 348.1,624.0 348.4,624.0 348.4,622.0 348.8,622.0 349.1,622.0 349.1,620.0 349.4,620.0 349.9,620.0 349.9,618.0 350.4,618.0 350.9,618.0 350.9,616.0 351.4,616.0 352.1,616.0 352.1,613.4 352.8,613.4 354.0,613.4 354.0,613.1 355.2,613.1 356.4,613.1 356.4,612.9 357.7,612.9 358.9,612.9 358.9,612.7 360.1,612.7 360.8,612.7 360.8,610.7 361.4,610.7 361.4,610.7 361.4,610.7 361.4,610.7 361.4,610.7 361.4,610.7 363.1,610.7 363.1,610.1 364.7,610.1 366.2,610.1 366.2,607.8 367.7,607.8 368.7,607.8 368.7,607.4 369.6,607.4 370.6,607.4 370.6,607.0 371.5,607.0 371.7,607.0 371.7,604.4 371.9,604.4 372.1,604.4 372.1,601.7 372.3,601.7 373.4,601.7 373.4,601.0 374.6,601.0 375.7,601.0 375.7,600.2 376.8,600.2 378.4,600.2 378.4,597.9 379.9,597.9 381.0,597.9 381.0,596.8 382.2,596.8 383.3,596.8 383.3,595.6 384.4,595.6 386.0,595.6 386.0,594.1 387.5,594.1 389.0,594.1 389.0,592.6 390.5,592.6 390.7,592.6 390.7,589.6 390.9,589.6 391.1,589.6 391.1,586.5 391.3,586.5 392.8,586.5 392.8,586.2 394.3,586.2 395.8,586.2 395.8,585.8 397.3,585.8 397.7,585.8 397.7,584.3 398.1,584.3 425.4,584.3 425.6,584.3 425.6,581.2 425.8,581.2 426.0,581.2 426.0,578.2 426.2,578.2 427.1,578.2 427.1,577.0 428.1,577.0 429.0,577.0 429.0,575.9 430.0,575.9 430.4,575.9 430.4,573.6 430.7,573.6 432.3,573.6 432.3,572.1 433.8,572.1 434.9,572.1 434.9,571.5 436.1,571.5 437.2,571.5 437.2,570.9 438.3,570.9 439.3,570.9 439.3,570.0 440.2,570.0 441.2,570.0 441.2,569.1 442.1,569.1 442.9,569.1 442.9,567.6 443.6,567.6 447.4,567.6 448.0,567.6 448.0,567.4 448.6,567.4" fill="none" stroke="#3a9a44" stroke-width="1.00" stroke-linejoin="round" stroke-linecap="round" />
<polyline points="279.6,693.5 279.6,693.5 279.9,693.5 279.9,690.8 280.1,690.8 280.4,690.8 280.4,688.1 280.7,688.1 282.0,688.1 282.0,687.4 283.3,687.4 284.7,687.4 284.7,686.8 286.0,686.8 287.0,686.8 287.0,685.4 288.0,685.4 288.7,685.4 288.7,682.8 289.4,682.8 289.7,682.8 289.7,680.8 290.0,680.8 290.4,680.8 290.4,678.8 290.7,678.8 291.0,678.8 291.0,676.8 291.4,676.8 291.7,676.8 291.7,674.8 292.0,674.8 292.2,674.8 292.2,672.5 292.5,672.5 292.7,672.5 292.7,670.3 292.9,670.3 293.1,670.3 293.1,668.1 293.4,668.1 294.7,668.1 294.7,665.4 296.0,665.4 297.4,665.4 297.4,662.8 298.7,662.8 299.4,662.8 299.4,660.7 300.0,660.7 300.7,660.7 300.7,658.7 301.4,658.7 302.7,658.7 302.7,656.1 304.0,656.1 305.7,656.1 305.7,653.4 307.4,653.4 308.4,653.4 308.4,652.1 309.4,652.1 310.0,652.1 310.0,650.1 310.7,650.1 311.4,650.1 311.4,648.1 312.0,648.1 313.4,648.1 313.4,647.4 314.7,647.4 315.7,647.4 315.7,647.1 316.7,647.1 317.7,647.1 317.7,646.7 318.7,646.7 319.7,646.7 319.7,644.7 320.7,644.7 321.7,644.7 321.7,642.7 322.7,642.7 323.7,642.7 323.7,641.4 324.7,641.4 325.7,641.4 325.7,640.1 326.7,640.1 328.1,640.1 328.1,638.7 329.4,638.7 330.4,638.7 330.4,638.1 331.4,638.1 332.4,638.1 332.4,637.4 333.4,637.4 334.4,637.4 334.4,636.7 335.4,636.7 336.4,636.7 336.4,636.0 337.4,636.0 356.1,636.0 356.2,636.0 356.2,633.7 356.3,633.7 356.4,633.7 356.4,631.4 356.4,631.4 356.5,631.4 356.5,629.0 356.6,629.0 356.7,629.0 356.7,626.7 356.8,626.7 358.4,626.7 358.4,625.4 360.1,625.4 360.9,625.4 360.9,622.7 361.8,622.7 362.6,622.7 362.6,620.0 363.4,620.0 363.4,620.0 364.9,620.0 364.9,617.3 366.4,617.3 367.8,617.3 367.8,614.6 369.3,614.6 370.0,614.6 370.0,611.6 370.8,611.6 371.5,611.6 371.5,608.5 372.3,608.5 372.7,608.5 372.7,606.3 373.0,606.3 373.4,606.3 373.4,604.0 373.8,604.0 374.2,604.0 374.2,601.7 374.6,601.7 374.9,601.7 374.9,599.4 375.3,599.4 375.7,599.4 375.7,597.2 376.1,597.2 376.5,597.2 376.5,594.9 376.8,594.9 378.0,594.9 378.0,593.4 379.1,593.4 379.2,593.4 379.2,591.1 379.4,591.1 379.5,591.1 379.5,588.8 379.6,588.8 379.8,588.8 379.8,586.5 379.9,586.5 381.0,586.5 381.0,585.6 382.2,585.6 383.3,585.6 383.3,584.6 384.4,584.6 385.6,584.6 385.6,583.7 386.7,583.7 387.9,583.7 387.9,582.7 389.0,582.7 390.5,582.7 390.5,581.2 392.0,581.2 393.3,581.2 393.3,580.2 394.6,580.2 395.8,580.2 395.8,579.2 397.1,579.2 398.4,579.2 398.4,578.2 399.6,578.2 401.1,578.2 401.1,577.0 402.7,577.0 404.2,577.0 404.2,575.9 405.7,575.9 406.6,575.9 406.6,575.1 407.6,575.1 408.5,575.1 408.5,574.4 409.5,574.4 410.8,574.4 410.8,573.2 412.1,573.2 413.5,573.2 413.5,572.1 414.8,572.1 415.7,572.1 415.7,571.3 416.7,571.3 417.6,571.3 417.6,570.6 418.6,570.6 419.4,570.6 419.4,569.4 420.1,569.4 443.6,569.4 444.4,569.4 444.4,567.6 445.2,567.6 447.4,567.6 448.0,567.6 448.0,567.4 448.6,567.4" fill="none" stroke="#7ff4f4" stroke-width="1.00" stroke-linejoin="round" stroke-linecap="round" />
<polyline points="279.6,693.5 279.6,693.5 279.6,689.5 279.9,689.5 279.9,687.4 280.1,687.4 280.4,687.4 280.4,685.4 280.7,685.4 281.0,685.4 281.0,683.4 281.3,683.4 281.7,683.4 281.7,681.4 282.0,681.4 282.3,681.4 282.3,679.4 282.7,679.4 283.0,679.4 283.0,677.4 283.3,677.4 284.3,677.4 284.3,674.8 285.3,674.8 287.0,674.8 287.0,674.1 288.7,674.1 288.9,674.1 288.9,672.1 289.0,672.1 289.2,672.1 289.2,670.1 289.4,670.1 289.7,670.1 289.7,668.1 290.0,668.1 290.4,668.1 290.4,666.1 290.7,666.1 292.0,666.1 292.0,662.8 293.4,662.8 293.7,662.8 293.7,660.4 294.0,660.4 294.4,660.4 294.4,658.1 294.7,658.1 295.0,658.1 295.0,655.7 295.4,655.7 295.7,655.7 295.7,653.4 296.0,653.4 300.0,653.4 300.2,653.4 300.2,651.4 300.4,651.4 300.5,651.4 300.5,649.4 300.7,649.4 300.9,649.4 300.9,646.7 301.0,646.7 301.2,646.7 301.2,644.1 301.4,644.1 301.5,644.1 301.5,641.4 301.7,641.4 301.9,641.4 301.9,638.7 302.0,638.7 302.7,638.7 302.7,637.4 303.4,637.4 304.7,637.4 304.7,635.4 306.0,635.4 307.7,635.4 307.7,634.0 309.4,634.0 310.7,634.0 310.7,633.4 312.0,633.4 313.4,633.4 313.4,632.7 314.7,632.7 315.7,632.7 315.7,632.4 316.7,632.4 317.7,632.4 317.7,632.0 318.7,632.0 318.8,632.0 318.8,629.4 318.9,629.4 319.1,629.4 319.1,626.7 319.2,626.7 319.3,626.7 319.3,624.0 319.4,624.0 324.1,624.0 324.2,624.0 324.2,621.8 324.3,621.8 324.4,621.8 324.4,619.6 324.5,619.6 324.6,619.6 324.6,617.4 324.7,617.4 335.4,617.4 335.7,617.4 335.7,614.0 336.1,614.0 337.7,614.0 337.7,612.0 339.4,612.0 340.1,612.0 340.1,609.6 340.8,609.6 342.2,609.6 342.2,609.5 343.6,609.5 345.1,609.5 345.1,609.4 346.5,609.4 348.0,609.4 348.0,609.3 349.4,609.3 350.1,609.3 350.1,607.3 350.8,607.3 352.4,607.3 352.4,606.0 354.1,606.0 355.6,606.0 355.6,605.7 357.1,605.7 358.6,605.7 358.6,605.3 360.1,605.3 360.3,605.3 360.3,603.3 360.4,603.3 360.6,603.3 360.6,601.3 360.8,601.3 360.8,601.3 360.8,601.3 360.8,601.0 360.9,601.0 375.3,601.0 375.5,601.0 375.5,599.1 375.7,599.1 375.9,599.1 375.9,597.2 376.1,597.2 377.0,597.2 377.0,596.4 378.0,596.4 378.9,596.4 378.9,595.6 379.9,595.6 380.1,595.6 380.1,593.7 380.3,593.7 380.5,593.7 380.5,591.8 380.6,591.8 381.2,591.8 381.2,589.9 381.8,589.9 382.3,589.9 382.3,588.0 382.9,588.0 384.1,588.0 384.1,587.9 385.2,587.9 386.3,587.9 386.3,587.7 387.5,587.7 388.6,587.7 388.6,587.5 389.7,587.5 390.9,587.5 390.9,587.3 392.0,587.3 393.3,587.3 393.3,587.0 394.6,587.0 395.9,587.0 395.9,586.7 397.2,586.7 398.5,586.7 398.5,586.4 399.8,586.4 401.1,586.4 401.1,586.1 402.3,586.1 403.6,586.1 403.6,585.8 404.9,585.8 406.3,585.8 406.3,585.3 407.7,585.3 409.1,585.3 409.1,584.8 410.5,584.8 411.9,584.8 411.9,584.3 413.3,584.3 414.4,584.3 414.4,582.0 415.6,582.0 416.7,582.0 416.7,579.7 417.8,579.7 419.2,579.7 419.2,578.7 420.6,578.7 422.0,578.7 422.0,577.7 423.4,577.7 424.8,577.7 424.8,576.7 426.2,576.7 426.9,576.7 426.9,575.9 427.7,575.9 429.0,575.9 429.0,575.8 430.4,575.8 431.7,575.8 431.7,575.7 433.0,575.7 434.3,575.7 434.3,575.5 435.7,575.5 437.0,575.5 437.0,575.4 438.3,575.4 439.7,575.4 439.7,575.3 441.0,575.3 442.3,575.3 442.3,575.1 443.6,575.1 444.0,575.1 444.0,572.9 444.4,572.9 445.5,572.9 445.5,572.1 446.7,572.1 446.9,572.1 446.9,569.8 447.1,569.8 447.2,569.8 447.2,567.6 447.4,567.6 448.0,567.6 448.0,567.4 448.6,567.4" fill="none" stroke="#f0a04c" stroke-width="1.00" stroke-linejoin="round" stroke-linecap="round" />
<polyline points="506.3,693.5 506.3,692.9 506.4,692.9 506.4,690.2 506.5,690.2 506.7,690.2 506.7,687.5 506.8,687.5 506.9,687.5 506.9,684.8 507.0,684.8 507.2,684.8 507.2,682.4 507.4,682.4 507.6,682.4 507.6,680.0 507.8,680.0 508.1,680.0 508.1,677.8 508.4,677.8 508.6,677.8 508.6,675.7 508.9,675.7 509.2,675.7 509.2,673.5 509.5,673.5 510.1,673.5 510.1,671.5 510.7,671.5 511.3,671.5 511.3,669.5 511.9,669.5 513.1,669.5 513.1,667.9 514.3,667.9 515.5,667.9 515.5,666.3 516.7,666.3 517.7,666.3 517.7,665.5 518.7,665.5 519.7,665.5 519.7,664.7 520.7,664.7 522.0,664.7 522.0,663.1 523.2,663.1 524.0,663.1 524.0,661.5 524.8,661.5 526.0,661.5 526.0,659.8 527.2,659.8 527.4,659.8 527.4,657.8 527.6,657.8 527.8,657.8 527.8,655.8 528.0,655.8 529.2,655.8 529.2,654.2 530.4,654.2 531.4,654.2 531.4,653.8 532.4,653.8 533.4,653.8 533.4,653.4 534.5,653.4 535.3,653.4 535.3,651.0 536.1,651.0 536.3,651.0 536.3,648.5 536.5,648.5 536.7,648.5 536.7,646.1 536.9,646.1 538.5,646.1 538.5,644.5 540.1,644.5 540.9,644.5 540.9,642.1 541.7,642.1 542.9,642.1 542.9,641.3 544.1,641.3 544.9,641.3 544.9,638.9 545.7,638.9 546.1,638.9 546.1,637.3 546.5,637.3 547.8,637.3 547.8,635.6 549.0,635.6 549.2,635.6 549.2,632.8 549.4,632.8 549.6,632.8 549.6,630.0 549.8,630.0 550.2,630.0 550.2,628.0 550.6,628.0 551.0,628.0 551.0,626.0 551.4,626.0 552.2,626.0 552.2,622.7 553.0,622.7 553.8,622.7 553.8,621.1 554.6,621.1 556.2,621.1 556.2,620.3 557.8,620.3 559.0,620.3 559.0,619.5 560.3,619.5 561.5,619.5 561.5,618.7 562.7,618.7 563.5,618.7 563.5,617.9 564.3,617.9 565.1,617.9 565.1,614.7 565.9,614.7 566.3,614.7 566.3,611.5 566.7,611.5 567.1,611.5 567.1,608.2 567.5,608.2 567.9,608.2 567.9,605.8 568.3,605.8 568.7,605.8 568.7,603.4 569.1,603.4 570.7,603.4 570.7,601.8 572.4,601.8 572.8,601.8 572.8,599.4 573.2,599.4 574.4,599.4 574.4,597.7 575.6,597.7 576.4,597.7 576.4,594.5 577.2,594.5 578.0,594.5 578.0,592.9 578.8,592.9 580.4,592.9 580.4,590.5 582.0,590.5 583.6,590.5 583.6,588.9 585.3,588.9 586.6,588.9 587.8,588.9 587.8,587.8 588.9,587.8 590.1,587.8 590.1,586.8 591.2,586.8 592.4,586.8 592.4,585.7 593.5,585.7 594.6,585.7 594.6,584.6 595.8,584.6 597.0,584.6 597.0,584.5 598.3,584.5 599.5,584.5 599.5,584.4 600.8,584.4 602.0,584.4 602.0,584.3 603.3,584.3 604.5,584.3 604.5,584.2 605.8,584.2 607.0,584.2 607.0,584.0 608.3,584.0 609.5,584.0 609.5,583.9 610.8,583.9 612.0,583.9 612.0,583.8 613.3,583.8 613.7,583.8 613.7,582.1 614.1,582.1 615.3,582.1 615.3,581.6 616.5,581.6 617.6,581.6 617.6,581.0 618.8,581.0 620.0,581.0 620.0,580.5 621.2,580.5 622.3,580.5 622.3,579.9 623.5,579.9 624.7,579.9 624.7,579.4 625.9,579.4 627.1,579.4 627.1,578.8 628.2,578.8 629.5,578.8 629.5,578.1 630.7,578.1 632.0,578.1 632.0,577.4 633.2,577.4 634.5,577.4 634.5,576.7 635.7,576.7 637.0,576.7 637.0,576.0 638.2,576.0 652.4,576.0 653.2,576.0 653.2,573.8 654.0,573.8 655.3,573.8 655.3,572.2 656.5,572.2 658.2,572.2 658.2,570.5 659.9,570.5 661.0,570.5 661.0,570.3 662.2,570.3 663.4,570.3 663.4,570.2 664.5,570.2 665.7,570.2 665.7,570.0 666.8,570.0 668.0,570.0 668.0,569.8 669.2,569.8 670.3,569.8 670.3,569.7 671.5,569.7 673.2,569.7 673.2,567.4 674.8,567.4 675.1,567.4" fill="none" stroke="#87c8ee" stroke-width="1.00" stroke-linejoin="round" stroke-linecap="round" />
<polyline points="506.3,693.5 506.3,692.9 506.4,692.9 506.4,690.2 506.5,690.2 506.7,690.2 506.7,687.5 506.8,687.5 506.9,687.5 506.9,684.8 507.0,684.8 507.3,684.8 507.3,682.7 507.6,682.7 507.8,682.7 507.8,680.5 508.1,680.5 508.4,680.5 508.4,678.4 508.6,678.4 509.0,678.4 509.0,675.6 509.5,675.6 509.9,675.6 509.9,672.7 510.3,672.7 511.1,672.7 511.1,669.5 511.9,669.5 513.5,669.5 513.5,668.7 515.1,668.7 515.3,668.7 515.3,666.3 515.5,666.3 515.7,666.3 515.7,663.9 515.9,663.9 517.1,663.9 517.1,660.6 518.3,660.6 519.1,660.6 519.1,657.4 519.9,657.4 520.1,657.4 520.1,655.4 520.3,655.4 520.5,655.4 520.5,653.4 520.7,653.4 528.0,653.4 528.4,653.4 528.4,651.0 528.8,651.0 534.5,651.0 535.3,651.0 535.3,648.5 536.1,648.5 537.3,648.5 537.3,647.7 538.5,647.7 539.7,647.7 539.7,645.3 540.9,645.3 541.0,645.3 541.0,642.9 541.0,642.9 541.1,642.9 541.1,640.5 541.2,640.5 541.2,640.5 541.2,638.1 541.3,638.1 541.4,638.1 541.4,635.6 541.4,635.6 541.5,635.6 541.5,633.2 541.6,633.2 541.6,633.2 541.6,630.8 541.7,630.8 542.1,630.8 542.1,628.8 542.5,628.8 542.9,628.8 542.9,626.8 543.3,626.8 544.5,626.8 544.5,624.4 545.7,624.4 546.5,624.4 546.5,621.9 547.4,621.9 548.2,621.9 548.2,619.5 549.0,619.5 549.4,619.5 549.4,617.1 549.8,617.1 550.2,617.1 550.2,614.7 550.6,614.7 551.4,614.7 551.4,613.1 552.2,613.1 553.4,613.1 553.4,611.5 554.6,611.5 555.8,611.5 555.8,609.0 557.0,609.0 557.8,609.0 557.8,607.4 558.6,607.4 560.1,607.4 560.1,606.6 561.5,606.6 562.9,606.6 562.9,605.8 564.3,605.8 564.5,605.8 564.5,603.4 564.7,603.4 564.9,603.4 564.9,601.0 565.1,601.0 566.7,601.0 566.7,600.2 568.3,600.2 569.5,600.2 569.5,597.7 570.7,597.7 571.5,597.7 571.5,596.1 572.4,596.1 573.6,596.1 573.6,594.5 574.8,594.5 575.2,594.5 575.2,591.3 575.6,591.3 576.8,591.3 576.8,590.5 578.0,590.5 579.2,590.5 579.2,589.7 580.4,589.7 581.6,589.7 581.6,588.9 582.8,588.9 583.2,588.9 583.2,586.8 583.5,586.8 583.8,586.8 583.8,584.6 584.1,584.6 585.5,584.6 585.5,584.4 586.8,584.4 588.1,584.4 588.1,584.1 589.4,584.1 590.7,584.1 590.7,583.8 592.0,583.8 593.4,583.8 593.4,583.5 594.7,583.5 596.0,583.5 596.0,583.2 597.3,583.2 598.6,583.2 598.6,583.0 599.9,583.0 601.1,583.0 601.1,581.9 602.2,581.9 603.3,581.9 603.3,580.8 604.4,580.8 605.5,580.8 605.5,579.6 606.6,579.6 608.1,579.6 608.1,578.4 609.5,578.4 611.0,578.4 611.0,577.1 612.4,577.1 613.6,577.1 613.6,576.9 614.8,576.9 616.0,576.9 616.0,576.6 617.2,576.6 618.4,576.6 618.4,576.3 619.6,576.3 620.7,576.3 620.7,576.0 621.9,576.0 623.1,576.0 623.1,575.7 624.3,575.7 625.5,575.7 625.5,575.4 626.7,575.4 627.9,575.4 627.9,575.1 629.1,575.1 630.2,575.1 630.2,575.0 631.4,575.0 632.6,575.0 632.6,574.9 633.7,574.9 634.9,574.9 634.9,574.8 636.1,574.8 637.2,574.8 637.2,574.7 638.4,574.7 639.6,574.7 639.6,574.6 640.7,574.6 640.9,574.6 640.9,572.2 641.0,572.2 641.1,572.2 641.1,569.8 641.3,569.8 641.4,569.8 641.4,567.4 641.6,567.4 674.8,567.4 675.1,567.4" fill="none" stroke="#3f8a4f" stroke-width="1.00" stroke-linejoin="round" stroke-linecap="round" />
<polyline points="506.3,693.5 506.3,692.9 506.3,684.8 506.7,684.8 506.7,682.4 507.1,682.4 507.5,682.4 507.5,680.0 507.8,680.0 508.0,680.0 508.0,677.6 508.2,677.6 508.4,677.6 508.4,675.2 508.6,675.2 508.8,675.2 508.8,672.7 509.0,672.7 509.2,672.7 509.2,670.3 509.5,670.3 509.6,670.3 509.6,668.2 509.7,668.2 509.9,668.2 509.9,666.0 510.0,666.0 510.1,666.0 510.1,663.9 510.3,663.9 510.5,663.9 510.5,661.7 510.7,661.7 510.9,661.7 510.9,659.4 511.1,659.4 511.3,659.4 511.3,657.2 511.5,657.2 511.7,657.2 511.7,655.0 511.9,655.0 512.7,655.0 512.7,653.4 513.5,653.4 514.7,653.4 514.7,649.7 515.9,649.7 516.7,649.7 516.7,646.5 517.5,646.5 518.3,646.5 518.3,644.0 519.1,644.0 520.3,644.0 520.3,641.6 521.5,641.6 522.8,641.6 522.8,640.8 524.0,640.8 524.1,640.8 524.1,638.1 524.2,638.1 524.3,638.1 524.3,635.3 524.4,635.3 524.5,635.3 524.5,632.6 524.6,632.6 524.8,632.6 524.8,629.8 524.9,629.8 525.0,629.8 525.0,627.1 525.1,627.1 525.5,627.1 525.5,624.8 525.8,624.8 526.2,624.8 526.2,622.5 526.5,622.5 526.9,622.5 526.9,620.2 527.3,620.2 527.6,620.2 527.6,617.9 528.0,617.9 528.8,617.9 528.8,615.9 529.6,615.9 530.4,615.9 530.4,613.9 531.2,613.9 532.2,613.9 532.2,612.7 533.2,612.7 534.2,612.7 534.2,611.5 535.3,611.5 536.5,611.5 536.5,610.2 537.7,610.2 538.7,610.2 538.7,609.8 539.7,609.8 540.7,609.8 540.7,609.4 541.7,609.4 541.9,609.4 541.9,606.9 542.1,606.9 542.3,606.9 542.3,604.5 542.5,604.5 542.8,604.5 542.8,602.2 543.1,602.2 543.4,602.2 543.4,599.9 543.7,599.9 544.0,599.9 544.0,597.6 544.3,597.6 544.6,597.6 544.6,595.3 544.9,595.3 546.1,595.3 546.1,594.5 547.4,594.5 548.6,594.5 548.6,594.0 549.8,594.0 551.0,594.0 551.0,593.4 552.2,593.4 553.4,593.4 553.4,592.9 554.6,592.9 556.0,592.9 556.0,592.5 557.4,592.5 558.8,592.5 558.8,592.1 560.3,592.1 561.4,592.1 561.4,590.2 562.6,590.2 563.8,590.2 563.8,588.3 565.0,588.3 566.4,588.3 566.4,588.2 567.7,588.2 569.1,588.2 569.1,588.1 570.4,588.1 571.8,588.1 571.8,588.0 573.1,588.0 574.5,588.0 574.5,588.0 575.8,588.0 576.6,588.0 576.6,586.3 577.5,586.3 578.5,586.3 578.5,584.2 579.6,584.2 580.6,584.2 580.6,582.1 581.6,582.1 582.9,582.1 582.9,581.6 584.1,581.6 585.4,581.6 585.4,581.1 586.6,581.1 587.9,581.1 587.9,580.6 589.1,580.6 590.4,580.6 590.4,580.1 591.6,580.1 592.9,580.1 592.9,579.6 594.1,579.6 595.5,579.6 595.5,578.3 596.9,578.3 598.3,578.3 598.3,576.9 599.7,576.9 601.1,576.9 601.1,575.5 602.4,575.5 622.4,575.5 622.6,575.5 622.6,573.4 622.8,573.4 623.0,573.4 623.0,571.3 623.2,571.3 624.5,571.3 624.5,571.2 625.7,571.2 627.0,571.2 627.0,571.2 628.2,571.2 629.5,571.2 629.5,571.1 630.7,571.1 632.0,571.1 632.0,571.0 633.2,571.0 633.6,571.0 633.6,569.7 634.1,569.7 635.2,569.7 635.2,569.5 636.3,569.5 637.4,569.5 637.4,569.4 638.5,569.4 639.6,569.4 639.6,569.3 640.7,569.3 641.1,569.3 641.1,567.4 641.6,567.4 674.8,567.4 675.1,567.4" fill="none" stroke="#4a7fc1" stroke-width="1.00" stroke-linejoin="round" stroke-linecap="round" />
<polyline points="506.3,693.5 506.3,692.9 506.3,686.5 506.7,686.5 506.7,683.2 507.0,683.2 507.3,683.2 507.3,681.1 507.6,681.1 507.8,681.1 507.8,678.9 508.1,678.9 508.4,678.9 508.4,676.8 508.6,676.8 508.9,676.8 508.9,674.6 509.2,674.6 509.5,674.6 509.5,672.5 509.7,672.5 510.0,672.5 510.0,670.3 510.3,670.3 510.5,670.3 510.5,667.9 510.7,667.9 510.9,667.9 510.9,665.5 511.1,665.5 511.3,665.5 511.3,663.1 511.5,663.1 511.7,663.1 511.7,660.6 511.9,660.6 512.1,660.6 512.1,657.8 512.3,657.8 512.5,657.8 512.5,655.0 512.7,655.0 513.5,655.0 513.5,653.4 514.3,653.4 514.7,653.4 514.7,651.4 515.1,651.4 515.5,651.4 515.5,649.4 515.9,649.4 516.7,649.4 516.7,646.1 517.5,646.1 518.3,646.1 518.3,643.7 519.1,643.7 520.3,643.7 520.3,641.3 521.5,641.3 522.8,641.3 522.8,640.5 524.0,640.5 524.0,640.5 524.0,637.7 524.1,637.7 524.2,637.7 524.2,635.0 524.3,635.0 524.4,635.0 524.4,632.3 524.5,632.3 524.5,632.3 524.5,629.5 524.6,629.5 524.7,629.5 524.7,626.8 524.8,626.8 526.0,626.8 526.0,626.0 527.2,626.0 527.5,626.0 527.5,623.3 527.7,623.3 528.0,623.3 528.0,620.6 528.3,620.6 528.5,620.6 528.5,617.9 528.8,617.9 530.0,617.9 530.0,614.7 531.2,614.7 532.0,614.7 532.0,613.1 532.8,613.1 534.0,613.1 534.0,611.5 535.3,611.5 536.5,611.5 536.5,609.8 537.7,609.8 538.7,609.8 538.7,609.4 539.7,609.4 540.7,609.4 540.7,609.0 541.7,609.0 541.9,609.0 541.9,606.6 542.1,606.6 542.3,606.6 542.3,604.2 542.5,604.2 543.3,604.2 543.3,601.0 544.1,601.0 544.7,601.0 544.7,598.1 545.3,598.1 545.9,598.1 545.9,595.3 546.5,595.3 547.4,595.3 547.4,594.5 548.2,594.5 549.8,594.5 549.8,593.7 551.4,593.7 553.0,593.7 553.0,592.1 554.6,592.1 555.6,592.1 555.6,591.7 556.6,591.7 557.6,591.7 557.6,591.3 558.6,591.3 559.9,591.3 559.9,589.7 561.1,589.7 561.9,589.7 561.9,587.3 562.7,587.3 563.8,587.3 563.8,586.3 565.0,586.3 566.5,586.3 566.5,585.3 567.9,585.3 569.4,585.3 569.4,584.3 570.8,584.3 571.9,584.3 571.9,582.7 573.0,582.7 574.2,582.7 574.2,581.2 575.3,581.2 576.4,581.2 576.4,579.6 577.5,579.6 587.5,579.6 588.5,579.6 588.5,577.6 589.5,577.6 590.6,577.6 590.6,575.5 591.6,575.5 592.5,575.5 592.5,573.4 593.3,573.4 594.1,573.4 594.1,571.3 595.0,571.3 596.2,571.3 596.2,571.3 597.5,571.3 598.7,571.3 598.7,571.3 599.9,571.3 601.2,571.3 601.2,571.2 602.4,571.2 603.7,571.2 603.7,571.2 604.9,571.2 606.2,571.2 606.2,571.2 607.4,571.2 608.7,571.2 608.7,571.2 609.9,571.2 611.2,571.2 611.2,571.1 612.4,571.1 613.7,571.1 613.7,571.1 614.9,571.1 616.2,571.1 616.2,571.1 617.4,571.1 618.7,571.1 618.7,571.0 619.9,571.0 621.2,571.0 621.2,571.0 622.4,571.0 623.7,571.0 623.7,571.0 624.9,571.0 625.3,571.0 625.3,569.7 625.7,569.7 627.0,569.7 627.0,569.6 628.2,569.6 629.4,569.6 629.4,569.6 630.6,569.6 631.8,569.6 631.8,569.6 633.0,569.6 634.2,569.6 634.2,569.5 635.4,569.5 636.6,569.5 636.6,569.5 637.8,569.5 639.1,569.5 639.1,569.5 640.3,569.5 641.5,569.5 641.5,569.4 642.7,569.4 643.9,569.4 643.9,569.4 645.1,569.4 646.3,569.4 646.3,569.4 647.5,569.4 648.7,569.4 648.7,569.4 649.9,569.4 651.2,569.4 651.2,569.3 652.4,569.3 652.8,569.3 652.8,567.4 653.2,567.4 674.8,567.4 675.1,567.4" fill="none" stroke="#ff2a2a" stroke-width="1.35" stroke-linejoin="round" stroke-linecap="round" />
<line x1="105.20" y1="123.50" x2="116.30" y2="123.50" stroke="#4f8fc4" stroke-width="1.00"/>
<text x="118.40" y="125.80" font-size="7.27" fill="#111" >Patch_baseline AUC: 0.7896</text>
<line x1="105.20" y1="131.50" x2="116.30" y2="131.50" stroke="#3b3bff" stroke-width="1.00"/>
<text x="118.40" y="133.80" font-size="7.27" fill="#111" >AvgPool_baseline AUC1: 0.8297</text>
<line x1="105.20" y1="140.50" x2="116.30" y2="140.50" stroke="#ff40ff" stroke-width="1.00"/>
<text x="118.40" y="142.80" font-size="7.27" fill="#111" >Prop_baseline AUC2: 0.8276</text>
<line x1="342.10" y1="123.50" x2="353.10" y2="123.50" stroke="#3a9a44" stroke-width="1.00"/>
<text x="355.00" y="125.80" font-size="7.27" fill="#111" >IRV2_AMIL AUC: 0.6505</text>
<line x1="342.10" y1="131.50" x2="353.10" y2="131.50" stroke="#7ff4f4" stroke-width="1.00"/>
<text x="355.00" y="133.80" font-size="7.27" fill="#111" >ResNet50_AMIL AUC: 0.7865</text>
<line x1="342.10" y1="140.50" x2="353.10" y2="140.50" stroke="#f0a04c" stroke-width="1.00"/>
<text x="355.00" y="142.80" font-size="7.27" fill="#111" >UNI_AMIL AUC: 0.8276</text>
<line x1="559.30" y1="119.50" x2="570.50" y2="119.50" stroke="#87c8ee" stroke-width="1.00"/>
<text x="572.20" y="121.80" font-size="7.27" fill="#111" >IRV2_CTMIL AUC: 0.6855</text>
<line x1="559.30" y1="128.50" x2="570.50" y2="128.50" stroke="#3f8a4f" stroke-width="1.00"/>
<text x="572.20" y="130.80" font-size="7.27" fill="#111" >ResNet50_CTMIL AUC: 0.6531</text>
<line x1="559.30" y1="137.50" x2="570.50" y2="137.50" stroke="#4a7fc1" stroke-width="1.00"/>
<text x="572.20" y="139.80" font-size="7.27" fill="#111" >UNI_cTransMIL AUC: 0.8639</text>
<line x1="559.30" y1="146.50" x2="570.50" y2="146.50" stroke="#ff2a2a" stroke-width="1.50"/>
<text x="572.20" y="148.80" font-size="7.27" fill="#111" font-weight="bold">Ensemble_CTMIL AUC: 0.8806</text>
<line x1="105.90" y1="305.50" x2="117.00" y2="305.50" stroke="#4f8fc4" stroke-width="1.00"/>
<text x="119.00" y="307.80" font-size="7.27" fill="#111" >Patch_baseline AUC: 0.5964</text>
<line x1="105.90" y1="313.50" x2="117.00" y2="313.50" stroke="#3b3bff" stroke-width="1.00"/>
<text x="119.00" y="315.80" font-size="7.27" fill="#111" >AvgPool_baseline AUC1: 0.6834</text>
<line x1="105.90" y1="321.50" x2="117.00" y2="321.50" stroke="#ff40ff" stroke-width="1.00"/>
<text x="119.00" y="323.80" font-size="7.27" fill="#111" >Prop_baseline AUC2: 0.6890</text>
<line x1="105.90" y1="489.50" x2="116.80" y2="489.50" stroke="#4f8fc4" stroke-width="1.00"/>
<text x="118.60" y="491.80" font-size="7.27" fill="#111" >Patch_baseline AUC: 0.6182</text>
<line x1="105.90" y1="497.50" x2="116.80" y2="497.50" stroke="#3b3bff" stroke-width="1.00"/>
<text x="118.60" y="499.80" font-size="7.27" fill="#111" >AvgPool_baseline AUC1: 0.7084</text>
<line x1="105.90" y1="506.50" x2="116.80" y2="506.50" stroke="#ff40ff" stroke-width="1.00"/>
<text x="118.60" y="508.80" font-size="7.27" fill="#111" >Prop_baseline AUC2: 0.7206</text>
<line x1="107.40" y1="670.50" x2="118.60" y2="670.50" stroke="#4f8fc4" stroke-width="1.00"/>
<text x="120.20" y="672.80" font-size="7.27" fill="#111" >Patch_baseline AUC: 0.5916</text>
<line x1="107.40" y1="679.50" x2="118.60" y2="679.50" stroke="#3b3bff" stroke-width="1.00"/>
<text x="120.20" y="681.80" font-size="7.27" fill="#111" >AvgPool_baseline AUC1: 0.6553</text>
<line x1="107.40" y1="687.50" x2="118.60" y2="687.50" stroke="#ff40ff" stroke-width="1.00"/>
<text x="120.20" y="689.80" font-size="7.27" fill="#111" >Prop_baseline AUC2: 0.6514</text>
<line x1="343.10" y1="305.50" x2="354.30" y2="305.50" stroke="#3a9a44" stroke-width="1.00"/>
<text x="356.60" y="307.80" font-size="7.27" fill="#111" >IRV2_AMIL AUC: 0.6318</text>
<line x1="343.10" y1="313.50" x2="354.30" y2="313.50" stroke="#7ff4f4" stroke-width="1.00"/>
<text x="356.60" y="315.80" font-size="7.27" fill="#111" >ResNet50_AMIL AUC: 0.6944</text>
<line x1="343.10" y1="322.50" x2="354.30" y2="322.50" stroke="#f0a04c" stroke-width="1.00"/>
<text x="356.60" y="324.80" font-size="7.27" fill="#111" >UNI_AMIL AUC: 0.7514</text>
<line x1="342.50" y1="489.50" x2="353.30" y2="489.50" stroke="#3a9a44" stroke-width="1.00"/>
<text x="355.60" y="491.80" font-size="7.27" fill="#111" >IRV2_AMIL AUC: 0.5970</text>
<line x1="342.50" y1="497.50" x2="353.30" y2="497.50" stroke="#7ff4f4" stroke-width="1.00"/>
<text x="355.60" y="499.80" font-size="7.27" fill="#111" >ResNet50_AMIL AUC: 0.7049</text>
<line x1="342.50" y1="506.50" x2="353.30" y2="506.50" stroke="#f0a04c" stroke-width="1.00"/>
<text x="355.60" y="508.80" font-size="7.27" fill="#111" >UNI_AMIL AUC: 0.7830</text>
<line x1="343.50" y1="670.50" x2="354.70" y2="670.50" stroke="#3a9a44" stroke-width="1.00"/>
<text x="356.60" y="672.80" font-size="7.27" fill="#111" >IRV2_AMIL AUC: 0.6000</text>
<line x1="343.50" y1="679.50" x2="354.70" y2="679.50" stroke="#7ff4f4" stroke-width="1.00"/>
<text x="356.60" y="681.80" font-size="7.27" fill="#111" >ResNet50_AMIL AUC: 0.6096</text>
<line x1="343.50" y1="688.50" x2="354.70" y2="688.50" stroke="#f0a04c" stroke-width="1.00"/>
<text x="356.60" y="690.80" font-size="7.27" fill="#111" >UNI_AMIL AUC: 0.6697</text>
<line x1="559.30" y1="301.50" x2="570.50" y2="301.50" stroke="#87c8ee" stroke-width="1.00"/>
<text x="572.20" y="303.80" font-size="7.27" fill="#111" >IRV2_CTMIL AUC: 0.7187</text>
<line x1="559.30" y1="310.50" x2="570.50" y2="310.50" stroke="#3f8a4f" stroke-width="1.00"/>
<text x="572.20" y="312.80" font-size="7.27" fill="#111" >ResNet50_CTMIL AUC: 0.7023</text>
<line x1="559.30" y1="319.50" x2="570.50" y2="319.50" stroke="#4a7fc1" stroke-width="1.00"/>
<text x="572.20" y="321.80" font-size="7.27" fill="#111" >UNI_CTMIL AUC: 0.8640</text>
<line x1="559.30" y1="328.50" x2="570.50" y2="328.50" stroke="#ff2a2a" stroke-width="1.50"/>
<text x="572.20" y="330.80" font-size="7.27" fill="#111" font-weight="bold">Ensemble_CTMIL AUC: 0.8768</text>
<line x1="559.30" y1="485.50" x2="570.50" y2="485.50" stroke="#87c8ee" stroke-width="1.00"/>
<text x="572.20" y="487.80" font-size="7.27" fill="#111" >IRV2_CTMIL AUC: 0.8069</text>
<line x1="559.30" y1="494.50" x2="570.50" y2="494.50" stroke="#3f8a4f" stroke-width="1.00"/>
<text x="572.20" y="496.80" font-size="7.27" fill="#111" >ResNet50_CTMIL AUC: 0.7886</text>
<line x1="559.30" y1="503.50" x2="570.50" y2="503.50" stroke="#4a7fc1" stroke-width="1.00"/>
<text x="572.20" y="505.80" font-size="7.27" fill="#111" >UNI_CTMIL AUC: 0.8216</text>
<line x1="559.30" y1="512.50" x2="570.50" y2="512.50" stroke="#ff2a2a" stroke-width="1.50"/>
<text x="572.20" y="514.80" font-size="7.27" fill="#111" font-weight="bold">Ensemble_CTMIL AUC: 0.8407</text>
<line x1="558.90" y1="666.50" x2="570.10" y2="666.50" stroke="#87c8ee" stroke-width="1.00"/>
<text x="571.80" y="668.80" font-size="7.27" fill="#111" >IRV2_CTMIL AUC: 0.6934</text>
<line x1="558.90" y1="675.50" x2="570.10" y2="675.50" stroke="#3f8a4f" stroke-width="1.00"/>
<text x="571.80" y="677.80" font-size="7.27" fill="#111" >ResNet50_CTMIL AUC: 0.7349</text>
<line x1="558.90" y1="684.50" x2="570.10" y2="684.50" stroke="#4a7fc1" stroke-width="1.00"/>
<text x="571.80" y="686.80" font-size="7.27" fill="#111" >UNI_CTMIL AUC: 0.8090</text>
<line x1="558.90" y1="693.50" x2="570.10" y2="693.50" stroke="#ff2a2a" stroke-width="1.50"/>
<text x="571.80" y="695.80" font-size="7.27" fill="#111" font-weight="bold">Ensemble_CTMIL AUC: 0.8208</text>
</svg>
</body></html>
